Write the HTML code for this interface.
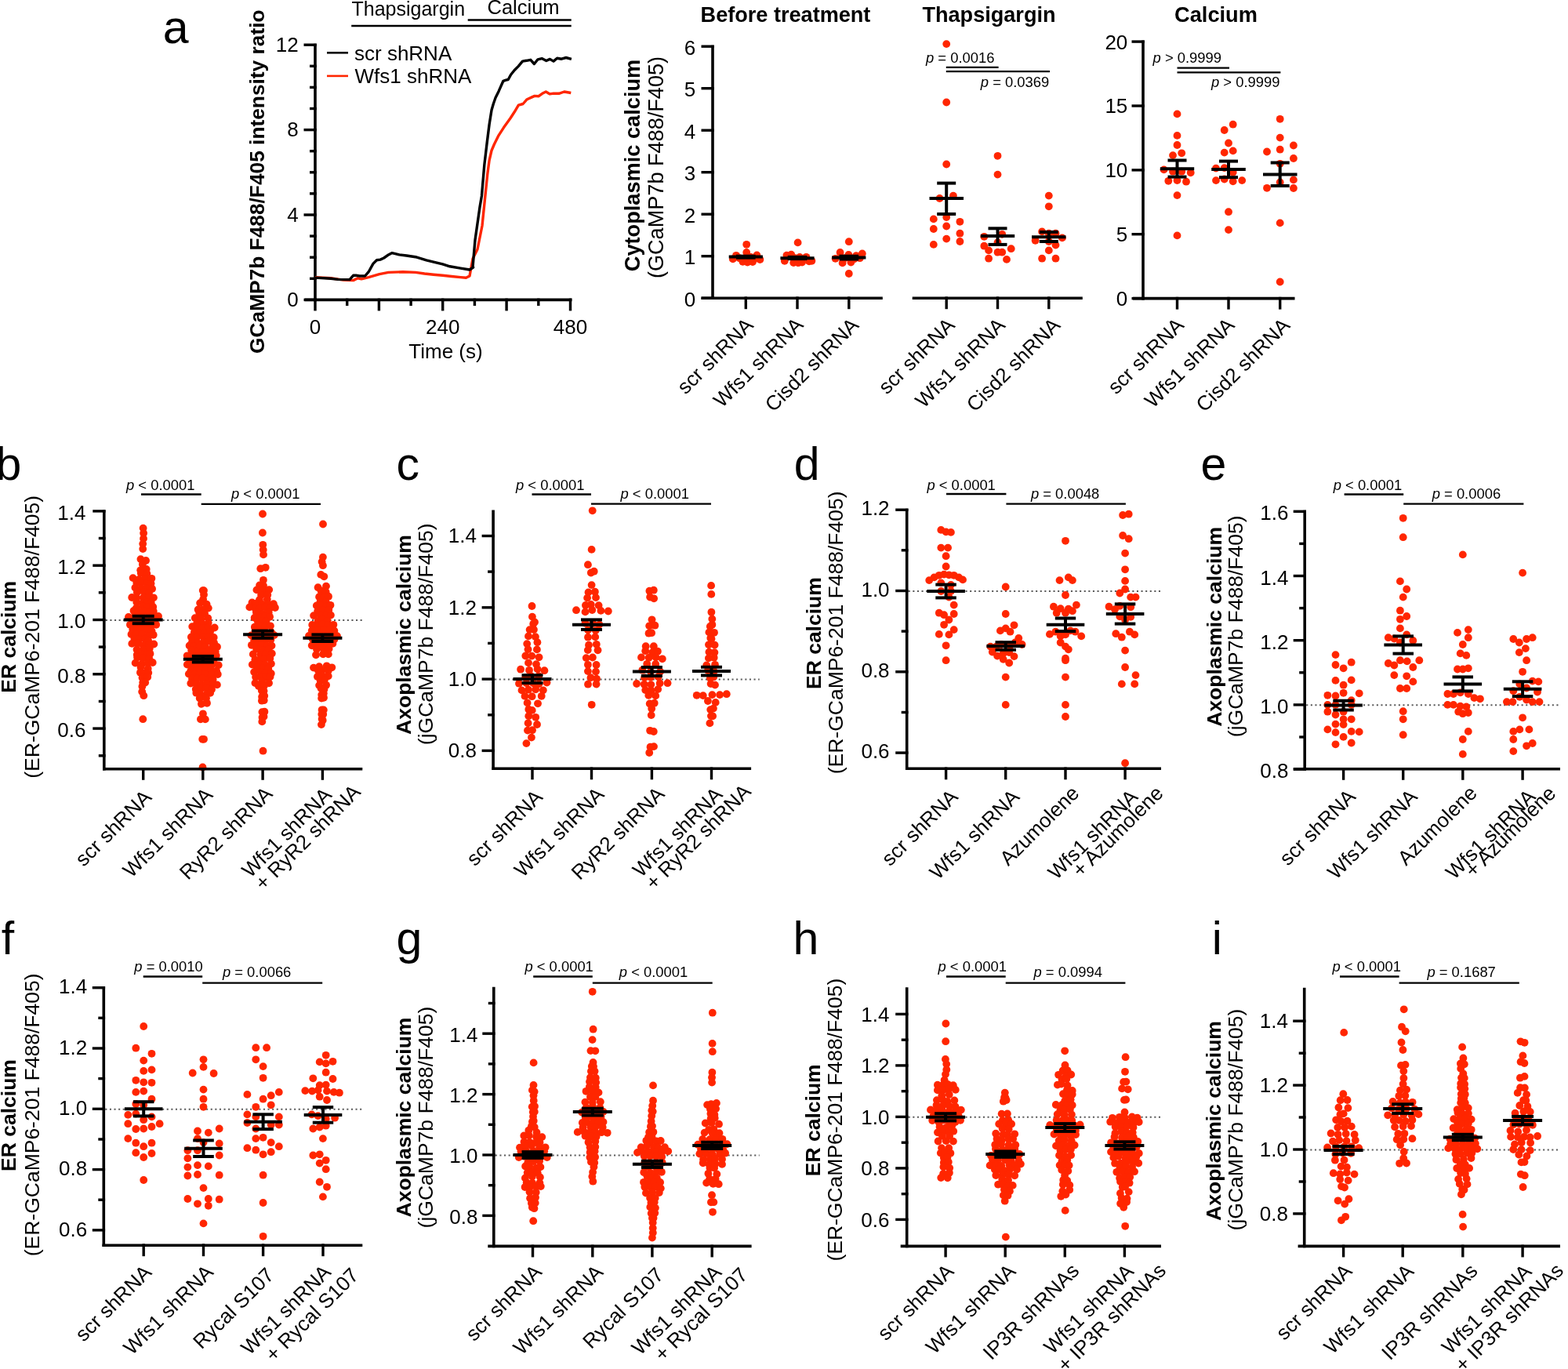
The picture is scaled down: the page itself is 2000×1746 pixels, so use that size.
<!DOCTYPE html>
<html><head><meta charset="utf-8"><title>Figure</title>
<style>html,body{margin:0;padding:0;background:#fff;}svg{display:block;}</style></head>
<body><svg width="2000" height="1746" viewBox="0 0 2000 1746" font-family="'Liberation Sans', Arial, Helvetica, sans-serif" fill="#000">
<rect width="2000" height="1746" fill="#fff"/>
<text x="207.7" y="55.0" font-size="59">a</text>
<text x="448.5" y="19.5" font-size="25">Thapsigargin</text>
<text x="621.5" y="18.3" font-size="25.5">Calcium</text>
<line x1="448.2" y1="33.0" x2="728.7" y2="33.0" stroke="#000" stroke-width="2.4" />
<line x1="596.7" y1="25.5" x2="728.7" y2="25.5" stroke="#000" stroke-width="2.4" />
<line x1="417.0" y1="67.3" x2="444.0" y2="67.3" stroke="#000" stroke-width="2.6" />
<line x1="417.0" y1="96.9" x2="444.0" y2="96.9" stroke="#FF2600" stroke-width="2.6" />
<text x="452.0" y="76.5" font-size="26">scr shRNA</text>
<text x="452.5" y="106.2" font-size="26">Wfs1 shRNA</text>
<line x1="402.0" y1="55.7" x2="402.0" y2="384.2" stroke="#000" stroke-width="3.6" />
<line x1="387.5" y1="382.4" x2="403.8" y2="382.4" stroke="#000" stroke-width="3.4" />
<text x="380.7" y="391.1" font-size="26" text-anchor="end">0</text>
<line x1="387.5" y1="274.0" x2="403.8" y2="274.0" stroke="#000" stroke-width="3.4" />
<text x="380.7" y="282.7" font-size="26" text-anchor="end">4</text>
<line x1="387.5" y1="165.6" x2="403.8" y2="165.6" stroke="#000" stroke-width="3.4" />
<text x="380.7" y="174.3" font-size="26" text-anchor="end">8</text>
<line x1="387.5" y1="57.2" x2="403.8" y2="57.2" stroke="#000" stroke-width="3.4" />
<text x="380.7" y="65.9" font-size="26" text-anchor="end">12</text>
<line x1="395.0" y1="355.3" x2="403.8" y2="355.3" stroke="#000" stroke-width="3.4" />
<line x1="395.0" y1="328.2" x2="403.8" y2="328.2" stroke="#000" stroke-width="3.4" />
<line x1="395.0" y1="301.1" x2="403.8" y2="301.1" stroke="#000" stroke-width="3.4" />
<line x1="395.0" y1="246.9" x2="403.8" y2="246.9" stroke="#000" stroke-width="3.4" />
<line x1="395.0" y1="219.8" x2="403.8" y2="219.8" stroke="#000" stroke-width="3.4" />
<line x1="395.0" y1="192.7" x2="403.8" y2="192.7" stroke="#000" stroke-width="3.4" />
<line x1="395.0" y1="138.5" x2="403.8" y2="138.5" stroke="#000" stroke-width="3.4" />
<line x1="395.0" y1="111.4" x2="403.8" y2="111.4" stroke="#000" stroke-width="3.4" />
<line x1="395.0" y1="84.3" x2="403.8" y2="84.3" stroke="#000" stroke-width="3.4" />
<line x1="388.5" y1="382.4" x2="729.5" y2="382.4" stroke="#000" stroke-width="3.6" />
<line x1="402.0" y1="380.6" x2="402.0" y2="396.4" stroke="#000" stroke-width="3.4" />
<line x1="483.4" y1="380.6" x2="483.4" y2="396.4" stroke="#000" stroke-width="3.4" />
<line x1="564.7" y1="380.6" x2="564.7" y2="396.4" stroke="#000" stroke-width="3.4" />
<line x1="646.1" y1="380.6" x2="646.1" y2="396.4" stroke="#000" stroke-width="3.4" />
<line x1="727.5" y1="380.6" x2="727.5" y2="396.4" stroke="#000" stroke-width="3.4" />
<line x1="442.7" y1="380.6" x2="442.7" y2="390.0" stroke="#000" stroke-width="3.4" />
<line x1="524.1" y1="380.6" x2="524.1" y2="390.0" stroke="#000" stroke-width="3.4" />
<line x1="605.4" y1="380.6" x2="605.4" y2="390.0" stroke="#000" stroke-width="3.4" />
<line x1="686.8" y1="380.6" x2="686.8" y2="390.0" stroke="#000" stroke-width="3.4" />
<text x="402.0" y="426.0" font-size="26" text-anchor="middle">0</text>
<text x="564.7" y="426.0" font-size="26" text-anchor="middle">240</text>
<text x="727.5" y="426.0" font-size="26" text-anchor="middle">480</text>
<text x="568.5" y="456.5" font-size="26" text-anchor="middle">Time (s)</text>
<text transform="translate(336.5,231.7) rotate(-90)" font-size="26.3" text-anchor="middle" font-weight="bold">GCaMP7b F488/F405 intensity ratio</text>
<polyline points="401.9,353.6 421.9,354.8 438.0,357.1 450.6,357.6 456.4,354.8 461.0,355.9 470.2,353.6 484.0,349.7 495.5,347.4 513.9,346.7 530.0,347.4 541.5,349.0 553.0,350.2 564.5,351.3 576.0,352.5 587.5,353.6 594.4,354.3 599.0,352.0 603.0,330.0 609.0,318.0 615.0,288.0 618.9,250.0 621.8,221.8 624.1,204.6 627.0,192.0 630.4,184.0 636.1,172.6 642.4,162.8 651.0,150.8 656.2,142.8 661.3,134.2 667.1,132.5 672.2,126.7 678.5,123.9 681.9,122.4 687.1,122.7 691.7,119.3 696.3,117.0 701.4,119.9 706.0,119.1 712.9,119.3 719.7,117.0 728.3,118.5" fill="none" stroke="#FF2600" stroke-width="3.4" stroke-linejoin="round"/>
<polyline points="401.9,354.1 421.9,355.3 431.1,356.4 446.0,356.6 450.6,351.3 454.1,351.3 458.7,352.0 465.6,352.0 470.2,346.7 475.9,336.4 480.5,331.8 485.1,331.1 489.7,329.0 495.5,324.9 500.1,322.6 509.3,324.9 518.5,326.0 530.0,327.7 543.8,331.8 553.0,334.1 564.5,336.9 573.7,339.8 587.5,342.1 599.0,344.0 603.6,341.0 603.0,340.5 606.0,306.0 612.0,264.0 614.4,250.0 617.8,210.4 621.2,181.7 624.1,158.8 627.0,140.5 629.3,132.5 632.1,124.5 636.1,116.4 641.9,103.3 645.3,102.1 648.2,101.5 651.6,95.2 656.2,89.5 661.3,84.4 666.5,78.1 671.6,77.3 676.8,76.3 681.4,81.5 686.0,75.8 691.1,74.6 696.8,77.5 701.4,75.4 706.0,78.1 710.6,74.3 716.3,75.2 722.0,73.5 728.9,75.4" fill="none" stroke="#000" stroke-width="3.4" stroke-linejoin="round"/>
<text x="1002.0" y="27.5" font-size="27.1" text-anchor="middle" font-weight="bold">Before treatment</text>
<text x="1261.5" y="27.5" font-size="27.1" text-anchor="middle" font-weight="bold">Thapsigargin</text>
<text x="1551.0" y="27.5" font-size="27.2" text-anchor="middle" font-weight="bold">Calcium</text>
<line x1="909.0" y1="57.7" x2="909.0" y2="382.0" stroke="#000" stroke-width="3.6" />
<line x1="894.5" y1="380.2" x2="910.8" y2="380.2" stroke="#000" stroke-width="3.4" />
<text x="887.1" y="390.9" font-size="26" text-anchor="end">0</text>
<line x1="894.5" y1="326.7" x2="910.8" y2="326.7" stroke="#000" stroke-width="3.4" />
<text x="887.1" y="337.4" font-size="26" text-anchor="end">1</text>
<line x1="894.5" y1="273.2" x2="910.8" y2="273.2" stroke="#000" stroke-width="3.4" />
<text x="887.1" y="283.9" font-size="26" text-anchor="end">2</text>
<line x1="894.5" y1="219.7" x2="910.8" y2="219.7" stroke="#000" stroke-width="3.4" />
<text x="887.1" y="230.4" font-size="26" text-anchor="end">3</text>
<line x1="894.5" y1="166.2" x2="910.8" y2="166.2" stroke="#000" stroke-width="3.4" />
<text x="887.1" y="176.9" font-size="26" text-anchor="end">4</text>
<line x1="894.5" y1="112.7" x2="910.8" y2="112.7" stroke="#000" stroke-width="3.4" />
<text x="887.1" y="123.4" font-size="26" text-anchor="end">5</text>
<line x1="894.5" y1="59.2" x2="910.8" y2="59.2" stroke="#000" stroke-width="3.4" />
<text x="887.1" y="69.9" font-size="26" text-anchor="end">6</text>
<text transform="translate(815.5,211.0) rotate(-90)" font-size="27.2" text-anchor="middle" font-weight="bold">Cytoplasmic calcium</text>
<text transform="translate(846.0,213.5) rotate(-90)" font-size="27.1" text-anchor="middle">(GCaMP7b F488/F405)</text>
<line x1="894.5" y1="380.2" x2="1125.8" y2="380.2" stroke="#000" stroke-width="3.6" />
<line x1="951.3" y1="378.4" x2="951.3" y2="394.2" stroke="#000" stroke-width="3.4" />
<line x1="1017.0" y1="378.4" x2="1017.0" y2="394.2" stroke="#000" stroke-width="3.4" />
<line x1="1082.8" y1="378.4" x2="1082.8" y2="394.2" stroke="#000" stroke-width="3.4" />
<line x1="1163.7" y1="380.2" x2="1380.8" y2="380.2" stroke="#000" stroke-width="3.6" />
<line x1="1207.2" y1="378.4" x2="1207.2" y2="394.2" stroke="#000" stroke-width="3.4" />
<line x1="1272.5" y1="378.4" x2="1272.5" y2="394.2" stroke="#000" stroke-width="3.4" />
<line x1="1337.8" y1="378.4" x2="1337.8" y2="394.2" stroke="#000" stroke-width="3.4" />
<line x1="1458.0" y1="51.6" x2="1458.0" y2="382.4" stroke="#000" stroke-width="3.6" />
<line x1="1443.5" y1="380.6" x2="1459.8" y2="380.6" stroke="#000" stroke-width="3.4" />
<text x="1438.3" y="390.0" font-size="26" text-anchor="end">0</text>
<line x1="1443.5" y1="298.7" x2="1459.8" y2="298.7" stroke="#000" stroke-width="3.4" />
<text x="1438.3" y="308.1" font-size="26" text-anchor="end">5</text>
<line x1="1443.5" y1="216.9" x2="1459.8" y2="216.9" stroke="#000" stroke-width="3.4" />
<text x="1438.3" y="226.3" font-size="26" text-anchor="end">10</text>
<line x1="1443.5" y1="135.0" x2="1459.8" y2="135.0" stroke="#000" stroke-width="3.4" />
<text x="1438.3" y="144.4" font-size="26" text-anchor="end">15</text>
<line x1="1443.5" y1="53.1" x2="1459.8" y2="53.1" stroke="#000" stroke-width="3.4" />
<text x="1438.3" y="62.5" font-size="26" text-anchor="end">20</text>
<line x1="1445.0" y1="380.6" x2="1651.5" y2="380.6" stroke="#000" stroke-width="3.6" />
<line x1="1501.5" y1="378.8" x2="1501.5" y2="394.6" stroke="#000" stroke-width="3.4" />
<line x1="1567.0" y1="378.8" x2="1567.0" y2="394.6" stroke="#000" stroke-width="3.4" />
<line x1="1632.7" y1="378.8" x2="1632.7" y2="394.6" stroke="#000" stroke-width="3.4" />
<text transform="translate(962.3,416.2) rotate(-45)" font-size="26" text-anchor="end">scr shRNA</text>
<text transform="translate(1026.0,415.8) rotate(-45)" font-size="26" text-anchor="end">Wfs1 shRNA</text>
<text transform="translate(1096.8,416.2) rotate(-45)" font-size="26" text-anchor="end">Cisd2 shRNA</text>
<text transform="translate(1219.2,416.2) rotate(-45)" font-size="26" text-anchor="end">scr shRNA</text>
<text transform="translate(1283.5,416.2) rotate(-45)" font-size="26" text-anchor="end">Wfs1 shRNA</text>
<text transform="translate(1353.8,416.2) rotate(-45)" font-size="26" text-anchor="end">Cisd2 shRNA</text>
<text transform="translate(1511.5,416.2) rotate(-45)" font-size="26" text-anchor="end">scr shRNA</text>
<text transform="translate(1576.0,416.2) rotate(-45)" font-size="26" text-anchor="end">Wfs1 shRNA</text>
<text transform="translate(1646.7,416.4) rotate(-45)" font-size="26" text-anchor="end">Cisd2 shRNA</text>
<g fill="#FF2600">
<circle cx="952.2" cy="311.8" r="4.9"/>
<circle cx="934.8" cy="330.4" r="4.9"/>
<circle cx="939.0" cy="325.8" r="4.9"/>
<circle cx="952.2" cy="322.0" r="4.9"/>
<circle cx="947.4" cy="333.8" r="4.9"/>
<circle cx="953.4" cy="334.6" r="4.9"/>
<circle cx="960.0" cy="334.0" r="4.9"/>
<circle cx="965.4" cy="325.4" r="4.9"/>
<circle cx="969.4" cy="331.0" r="4.9"/>
<circle cx="943.2" cy="329.2" r="4.9"/>
<circle cx="957.6" cy="328.0" r="4.9"/>
<circle cx="962.4" cy="330.4" r="4.9"/>
</g>
<g fill="#FF2600">
<circle cx="1017.6" cy="309.4" r="4.9"/>
<circle cx="1000.8" cy="332.8" r="4.9"/>
<circle cx="1003.4" cy="325.6" r="4.9"/>
<circle cx="1009.2" cy="324.6" r="4.9"/>
<circle cx="1012.2" cy="335.0" r="4.9"/>
<circle cx="1018.2" cy="335.2" r="4.9"/>
<circle cx="1023.0" cy="334.6" r="4.9"/>
<circle cx="1028.4" cy="327.8" r="4.9"/>
<circle cx="1032.0" cy="333.4" r="4.9"/>
<circle cx="1035.4" cy="332.8" r="4.9"/>
<circle cx="1020.0" cy="328.0" r="4.9"/>
<circle cx="1014.0" cy="329.2" r="4.9"/>
</g>
<g fill="#FF2600">
<circle cx="1082.8" cy="308.2" r="4.9"/>
<circle cx="1082.8" cy="349.0" r="4.9"/>
<circle cx="1065.6" cy="329.8" r="4.9"/>
<circle cx="1071.6" cy="322.0" r="4.9"/>
<circle cx="1074.6" cy="335.4" r="4.9"/>
<circle cx="1085.4" cy="334.6" r="4.9"/>
<circle cx="1092.0" cy="326.2" r="4.9"/>
<circle cx="1099.8" cy="323.4" r="4.9"/>
<circle cx="1082.4" cy="325.0" r="4.9"/>
<circle cx="1077.6" cy="329.2" r="4.9"/>
<circle cx="1089.6" cy="330.4" r="4.9"/>
<circle cx="1096.8" cy="329.2" r="4.9"/>
</g>
<line x1="929.7" y1="327.4" x2="972.9" y2="327.4" stroke="#000" stroke-width="4" />
<rect x="939.0" y="324.7" width="24.6" height="6.0" fill="#000"/>
<line x1="995.4" y1="329.2" x2="1038.6" y2="329.2" stroke="#000" stroke-width="4" />
<rect x="1004.7" y="325.9" width="24.6" height="6.2" fill="#000"/>
<line x1="1061.2" y1="328.6" x2="1104.4" y2="328.6" stroke="#000" stroke-width="4" />
<rect x="1070.5" y="324.7" width="24.6" height="7.8" fill="#000"/>
<g fill="#FF2600">
<circle cx="1207.2" cy="56.1" r="4.9"/>
<circle cx="1207.2" cy="130.5" r="4.9"/>
<circle cx="1207.2" cy="209.5" r="4.9"/>
<circle cx="1198.5" cy="253.0" r="4.9"/>
<circle cx="1215.9" cy="249.6" r="4.9"/>
<circle cx="1207.2" cy="277.1" r="4.9"/>
<circle cx="1190.8" cy="279.4" r="4.9"/>
<circle cx="1224.4" cy="282.8" r="4.9"/>
<circle cx="1207.2" cy="288.5" r="4.9"/>
<circle cx="1190.8" cy="292.0" r="4.9"/>
<circle cx="1224.4" cy="297.7" r="4.9"/>
<circle cx="1207.2" cy="304.6" r="4.9"/>
<circle cx="1224.4" cy="308.0" r="4.9"/>
<circle cx="1190.8" cy="311.9" r="4.9"/>
</g>
<g fill="#FF2600">
<circle cx="1272.5" cy="198.8" r="4.9"/>
<circle cx="1272.5" cy="222.6" r="4.9"/>
<circle cx="1255.3" cy="301.8" r="4.9"/>
<circle cx="1278.2" cy="298.8" r="4.9"/>
<circle cx="1255.3" cy="313.7" r="4.9"/>
<circle cx="1272.5" cy="309.1" r="4.9"/>
<circle cx="1289.7" cy="317.2" r="4.9"/>
<circle cx="1261.1" cy="319.4" r="4.9"/>
<circle cx="1272.5" cy="321.7" r="4.9"/>
<circle cx="1278.2" cy="321.7" r="4.9"/>
<circle cx="1261.1" cy="329.7" r="4.9"/>
<circle cx="1284.0" cy="330.9" r="4.9"/>
</g>
<g fill="#FF2600">
<circle cx="1337.8" cy="249.6" r="4.9"/>
<circle cx="1337.8" cy="263.3" r="4.9"/>
<circle cx="1329.1" cy="295.4" r="4.9"/>
<circle cx="1337.8" cy="297.7" r="4.9"/>
<circle cx="1346.5" cy="297.7" r="4.9"/>
<circle cx="1354.9" cy="303.4" r="4.9"/>
<circle cx="1320.6" cy="306.8" r="4.9"/>
<circle cx="1337.8" cy="308.0" r="4.9"/>
<circle cx="1346.5" cy="312.6" r="4.9"/>
<circle cx="1337.8" cy="319.4" r="4.9"/>
<circle cx="1329.1" cy="329.7" r="4.9"/>
<circle cx="1346.5" cy="329.7" r="4.9"/>
</g>
<line x1="1185.5" y1="253.0" x2="1229.0" y2="253.0" stroke="#000" stroke-width="4" />
<line x1="1207.2" y1="233.6" x2="1207.2" y2="273.0" stroke="#000" stroke-width="4" />
<line x1="1195.2" y1="233.6" x2="1219.2" y2="233.6" stroke="#000" stroke-width="4" />
<line x1="1195.2" y1="273.0" x2="1219.2" y2="273.0" stroke="#000" stroke-width="4" />
<line x1="1250.8" y1="301.1" x2="1294.2" y2="301.1" stroke="#000" stroke-width="4" />
<line x1="1272.5" y1="291.3" x2="1272.5" y2="311.9" stroke="#000" stroke-width="4" />
<line x1="1260.5" y1="291.3" x2="1284.5" y2="291.3" stroke="#000" stroke-width="4" />
<line x1="1260.5" y1="311.9" x2="1284.5" y2="311.9" stroke="#000" stroke-width="4" />
<line x1="1316.0" y1="302.3" x2="1359.5" y2="302.3" stroke="#000" stroke-width="4" />
<line x1="1337.8" y1="295.9" x2="1337.8" y2="308.0" stroke="#000" stroke-width="4" />
<line x1="1325.8" y1="295.9" x2="1349.8" y2="295.9" stroke="#000" stroke-width="4" />
<line x1="1325.8" y1="308.0" x2="1349.8" y2="308.0" stroke="#000" stroke-width="4" />
<g fill="#FF2600">
<circle cx="1501.5" cy="145.4" r="4.9"/>
<circle cx="1501.5" cy="172.9" r="4.9"/>
<circle cx="1501.5" cy="185.0" r="4.9"/>
<circle cx="1496.0" cy="198.1" r="4.9"/>
<circle cx="1507.2" cy="195.3" r="4.9"/>
<circle cx="1484.6" cy="216.4" r="4.9"/>
<circle cx="1496.0" cy="218.7" r="4.9"/>
<circle cx="1507.2" cy="218.7" r="4.9"/>
<circle cx="1518.7" cy="220.3" r="4.9"/>
<circle cx="1490.3" cy="230.8" r="4.9"/>
<circle cx="1501.5" cy="230.1" r="4.9"/>
<circle cx="1513.0" cy="231.7" r="4.9"/>
<circle cx="1501.5" cy="249.1" r="4.9"/>
<circle cx="1501.5" cy="300.4" r="4.9"/>
</g>
<g fill="#FF2600">
<circle cx="1572.7" cy="158.7" r="4.9"/>
<circle cx="1561.7" cy="166.0" r="4.9"/>
<circle cx="1567.0" cy="182.5" r="4.9"/>
<circle cx="1561.7" cy="194.6" r="4.9"/>
<circle cx="1572.7" cy="192.4" r="4.9"/>
<circle cx="1551.0" cy="214.6" r="4.9"/>
<circle cx="1561.7" cy="214.1" r="4.9"/>
<circle cx="1572.7" cy="219.8" r="4.9"/>
<circle cx="1551.0" cy="230.1" r="4.9"/>
<circle cx="1561.7" cy="228.5" r="4.9"/>
<circle cx="1572.7" cy="231.3" r="4.9"/>
<circle cx="1584.2" cy="230.1" r="4.9"/>
<circle cx="1567.0" cy="270.2" r="4.9"/>
<circle cx="1567.0" cy="293.1" r="4.9"/>
</g>
<g fill="#FF2600">
<circle cx="1632.7" cy="151.8" r="4.9"/>
<circle cx="1632.7" cy="175.6" r="4.9"/>
<circle cx="1649.9" cy="185.5" r="4.9"/>
<circle cx="1616.0" cy="193.5" r="4.9"/>
<circle cx="1632.7" cy="190.7" r="4.9"/>
<circle cx="1649.9" cy="202.0" r="4.9"/>
<circle cx="1632.7" cy="208.8" r="4.9"/>
<circle cx="1649.9" cy="229.4" r="4.9"/>
<circle cx="1632.7" cy="232.4" r="4.9"/>
<circle cx="1616.0" cy="239.8" r="4.9"/>
<circle cx="1649.9" cy="240.0" r="4.9"/>
<circle cx="1632.7" cy="284.4" r="4.9"/>
<circle cx="1632.7" cy="359.5" r="4.9"/>
</g>
<line x1="1479.8" y1="215.3" x2="1523.2" y2="215.3" stroke="#000" stroke-width="4" />
<line x1="1501.5" y1="204.5" x2="1501.5" y2="225.6" stroke="#000" stroke-width="4" />
<line x1="1489.5" y1="204.5" x2="1513.5" y2="204.5" stroke="#000" stroke-width="4" />
<line x1="1489.5" y1="225.6" x2="1513.5" y2="225.6" stroke="#000" stroke-width="4" />
<line x1="1545.2" y1="215.9" x2="1588.8" y2="215.9" stroke="#000" stroke-width="4" />
<line x1="1567.0" y1="205.6" x2="1567.0" y2="226.2" stroke="#000" stroke-width="4" />
<line x1="1555.0" y1="205.6" x2="1579.0" y2="205.6" stroke="#000" stroke-width="4" />
<line x1="1555.0" y1="226.2" x2="1579.0" y2="226.2" stroke="#000" stroke-width="4" />
<line x1="1611.0" y1="222.6" x2="1654.5" y2="222.6" stroke="#000" stroke-width="4" />
<line x1="1632.7" y1="207.5" x2="1632.7" y2="237.0" stroke="#000" stroke-width="4" />
<line x1="1620.7" y1="207.5" x2="1644.7" y2="207.5" stroke="#000" stroke-width="4" />
<line x1="1620.7" y1="237.0" x2="1644.7" y2="237.0" stroke="#000" stroke-width="4" />
<text x="1181.0" y="80.0" font-size="18.4"><tspan font-style="italic">p</tspan> = 0.0016</text>
<line x1="1206.8" y1="85.9" x2="1273.6" y2="85.9" stroke="#000" stroke-width="2.3" />
<line x1="1206.8" y1="91.1" x2="1339.0" y2="91.1" stroke="#000" stroke-width="2.3" />
<text x="1250.8" y="111.0" font-size="18.4"><tspan font-style="italic">p</tspan> = 0.0369</text>
<text x="1470.6" y="80.0" font-size="18.4"><tspan font-style="italic">p</tspan> &gt; 0.9999</text>
<line x1="1501.5" y1="86.6" x2="1568.0" y2="86.6" stroke="#000" stroke-width="2.3" />
<line x1="1501.5" y1="92.3" x2="1633.4" y2="92.3" stroke="#000" stroke-width="2.3" />
<text x="1545.0" y="111.0" font-size="18.4"><tspan font-style="italic">p</tspan> &gt; 0.9999</text>
<text x="-5.4" y="612.0" font-size="59">b</text>
<line x1="134.8" y1="790.9" x2="463.6" y2="790.9" stroke="#5c5c5c" stroke-width="2" stroke-dasharray="2.1 3.5"/>
<g fill="#FF2600">
<circle cx="182.6" cy="673.6" r="4.9"/>
<circle cx="183.1" cy="680.0" r="4.9"/>
<circle cx="183.0" cy="686.9" r="4.9"/>
<circle cx="182.2" cy="693.6" r="4.9"/>
<circle cx="182.2" cy="700.1" r="4.9"/>
<circle cx="179.4" cy="713.1" r="4.9"/>
<circle cx="186.1" cy="715.0" r="4.9"/>
<circle cx="181.8" cy="719.8" r="4.9"/>
<circle cx="179.2" cy="727.3" r="4.9"/>
<circle cx="186.7" cy="725.9" r="4.9"/>
<circle cx="179.7" cy="730.9" r="4.9"/>
<circle cx="187.4" cy="731.6" r="4.9"/>
<circle cx="169.6" cy="737.1" r="4.9"/>
<circle cx="177.3" cy="738.9" r="4.9"/>
<circle cx="184.6" cy="738.3" r="4.9"/>
<circle cx="193.4" cy="737.8" r="4.9"/>
<circle cx="174.2" cy="743.0" r="4.9"/>
<circle cx="179.3" cy="743.3" r="4.9"/>
<circle cx="187.2" cy="743.9" r="4.9"/>
<circle cx="192.5" cy="744.3" r="4.9"/>
<circle cx="172.4" cy="749.5" r="4.9"/>
<circle cx="180.4" cy="750.6" r="4.9"/>
<circle cx="186.2" cy="750.3" r="4.9"/>
<circle cx="194.1" cy="751.0" r="4.9"/>
<circle cx="174.8" cy="755.5" r="4.9"/>
<circle cx="183.6" cy="755.1" r="4.9"/>
<circle cx="190.0" cy="756.7" r="4.9"/>
<circle cx="168.2" cy="762.0" r="4.9"/>
<circle cx="174.2" cy="762.5" r="4.9"/>
<circle cx="182.8" cy="762.2" r="4.9"/>
<circle cx="189.9" cy="761.5" r="4.9"/>
<circle cx="195.9" cy="762.3" r="4.9"/>
<circle cx="174.2" cy="767.9" r="4.9"/>
<circle cx="181.6" cy="769.2" r="4.9"/>
<circle cx="187.2" cy="768.4" r="4.9"/>
<circle cx="192.7" cy="768.5" r="4.9"/>
<circle cx="174.0" cy="775.3" r="4.9"/>
<circle cx="182.0" cy="773.4" r="4.9"/>
<circle cx="188.2" cy="774.4" r="4.9"/>
<circle cx="195.2" cy="773.9" r="4.9"/>
<circle cx="170.5" cy="779.0" r="4.9"/>
<circle cx="176.3" cy="780.7" r="4.9"/>
<circle cx="182.9" cy="779.3" r="4.9"/>
<circle cx="190.1" cy="780.9" r="4.9"/>
<circle cx="195.8" cy="779.8" r="4.9"/>
<circle cx="163.9" cy="786.9" r="4.9"/>
<circle cx="171.1" cy="786.9" r="4.9"/>
<circle cx="176.1" cy="785.7" r="4.9"/>
<circle cx="182.7" cy="786.9" r="4.9"/>
<circle cx="190.7" cy="785.0" r="4.9"/>
<circle cx="195.1" cy="785.3" r="4.9"/>
<circle cx="202.0" cy="785.9" r="4.9"/>
<circle cx="168.8" cy="791.3" r="4.9"/>
<circle cx="174.6" cy="791.7" r="4.9"/>
<circle cx="182.7" cy="792.1" r="4.9"/>
<circle cx="191.4" cy="792.4" r="4.9"/>
<circle cx="197.4" cy="792.2" r="4.9"/>
<circle cx="165.9" cy="796.8" r="4.9"/>
<circle cx="173.6" cy="798.6" r="4.9"/>
<circle cx="180.3" cy="798.7" r="4.9"/>
<circle cx="185.9" cy="797.6" r="4.9"/>
<circle cx="191.9" cy="798.3" r="4.9"/>
<circle cx="199.2" cy="796.8" r="4.9"/>
<circle cx="169.2" cy="803.0" r="4.9"/>
<circle cx="175.4" cy="802.7" r="4.9"/>
<circle cx="180.9" cy="803.0" r="4.9"/>
<circle cx="187.4" cy="803.5" r="4.9"/>
<circle cx="193.6" cy="804.9" r="4.9"/>
<circle cx="167.5" cy="809.0" r="4.9"/>
<circle cx="173.8" cy="809.5" r="4.9"/>
<circle cx="181.2" cy="808.9" r="4.9"/>
<circle cx="189.5" cy="811.2" r="4.9"/>
<circle cx="195.7" cy="809.8" r="4.9"/>
<circle cx="171.4" cy="814.8" r="4.9"/>
<circle cx="177.6" cy="815.2" r="4.9"/>
<circle cx="185.1" cy="815.0" r="4.9"/>
<circle cx="189.1" cy="817.0" r="4.9"/>
<circle cx="168.3" cy="820.9" r="4.9"/>
<circle cx="175.5" cy="820.6" r="4.9"/>
<circle cx="182.5" cy="823.1" r="4.9"/>
<circle cx="190.5" cy="822.3" r="4.9"/>
<circle cx="196.3" cy="821.5" r="4.9"/>
<circle cx="174.5" cy="828.5" r="4.9"/>
<circle cx="183.2" cy="828.5" r="4.9"/>
<circle cx="190.8" cy="827.1" r="4.9"/>
<circle cx="174.7" cy="835.1" r="4.9"/>
<circle cx="181.1" cy="834.6" r="4.9"/>
<circle cx="186.9" cy="834.4" r="4.9"/>
<circle cx="191.5" cy="833.8" r="4.9"/>
<circle cx="175.1" cy="838.6" r="4.9"/>
<circle cx="181.9" cy="839.2" r="4.9"/>
<circle cx="190.3" cy="840.3" r="4.9"/>
<circle cx="172.6" cy="845.6" r="4.9"/>
<circle cx="180.8" cy="847.0" r="4.9"/>
<circle cx="188.5" cy="845.4" r="4.9"/>
<circle cx="194.7" cy="845.0" r="4.9"/>
<circle cx="179.5" cy="851.0" r="4.9"/>
<circle cx="188.7" cy="852.8" r="4.9"/>
<circle cx="178.9" cy="857.7" r="4.9"/>
<circle cx="184.6" cy="858.5" r="4.9"/>
<circle cx="189.3" cy="858.1" r="4.9"/>
<circle cx="181.5" cy="864.4" r="4.9"/>
<circle cx="188.2" cy="863.6" r="4.9"/>
<circle cx="182.2" cy="870.4" r="4.9"/>
<circle cx="185.2" cy="870.5" r="4.9"/>
<circle cx="181.4" cy="875.5" r="4.9"/>
<circle cx="181.2" cy="882.2" r="4.9"/>
<circle cx="183.3" cy="887.2" r="4.9"/>
<circle cx="182.3" cy="917.2" r="4.9"/>
</g>
<g fill="#FF2600">
<circle cx="258.7" cy="753.1" r="4.9"/>
<circle cx="260.0" cy="753.1" r="4.9"/>
<circle cx="260.0" cy="758.5" r="4.9"/>
<circle cx="259.1" cy="764.4" r="4.9"/>
<circle cx="255.1" cy="769.1" r="4.9"/>
<circle cx="263.6" cy="770.7" r="4.9"/>
<circle cx="252.6" cy="777.5" r="4.9"/>
<circle cx="258.8" cy="777.3" r="4.9"/>
<circle cx="265.8" cy="775.6" r="4.9"/>
<circle cx="254.2" cy="781.8" r="4.9"/>
<circle cx="261.1" cy="782.6" r="4.9"/>
<circle cx="248.8" cy="788.2" r="4.9"/>
<circle cx="256.3" cy="789.4" r="4.9"/>
<circle cx="265.2" cy="788.3" r="4.9"/>
<circle cx="251.0" cy="795.4" r="4.9"/>
<circle cx="258.1" cy="795.5" r="4.9"/>
<circle cx="265.7" cy="794.5" r="4.9"/>
<circle cx="245.2" cy="799.1" r="4.9"/>
<circle cx="252.1" cy="799.6" r="4.9"/>
<circle cx="258.0" cy="801.2" r="4.9"/>
<circle cx="265.5" cy="800.3" r="4.9"/>
<circle cx="273.7" cy="800.5" r="4.9"/>
<circle cx="247.8" cy="806.5" r="4.9"/>
<circle cx="255.1" cy="807.2" r="4.9"/>
<circle cx="260.8" cy="806.6" r="4.9"/>
<circle cx="268.1" cy="805.8" r="4.9"/>
<circle cx="243.9" cy="812.5" r="4.9"/>
<circle cx="251.0" cy="813.1" r="4.9"/>
<circle cx="259.2" cy="812.3" r="4.9"/>
<circle cx="265.7" cy="812.4" r="4.9"/>
<circle cx="272.7" cy="812.9" r="4.9"/>
<circle cx="245.1" cy="818.5" r="4.9"/>
<circle cx="252.0" cy="819.6" r="4.9"/>
<circle cx="259.5" cy="819.4" r="4.9"/>
<circle cx="267.0" cy="817.8" r="4.9"/>
<circle cx="273.0" cy="819.6" r="4.9"/>
<circle cx="241.6" cy="823.5" r="4.9"/>
<circle cx="247.4" cy="824.3" r="4.9"/>
<circle cx="254.6" cy="823.8" r="4.9"/>
<circle cx="261.8" cy="824.9" r="4.9"/>
<circle cx="270.9" cy="825.5" r="4.9"/>
<circle cx="277.0" cy="825.0" r="4.9"/>
<circle cx="244.2" cy="829.5" r="4.9"/>
<circle cx="252.3" cy="831.7" r="4.9"/>
<circle cx="258.0" cy="831.7" r="4.9"/>
<circle cx="265.8" cy="830.4" r="4.9"/>
<circle cx="274.7" cy="831.3" r="4.9"/>
<circle cx="238.7" cy="836.3" r="4.9"/>
<circle cx="246.6" cy="836.1" r="4.9"/>
<circle cx="253.3" cy="836.0" r="4.9"/>
<circle cx="262.1" cy="835.2" r="4.9"/>
<circle cx="269.1" cy="836.3" r="4.9"/>
<circle cx="275.8" cy="836.1" r="4.9"/>
<circle cx="243.1" cy="842.5" r="4.9"/>
<circle cx="249.5" cy="843.8" r="4.9"/>
<circle cx="259.0" cy="843.7" r="4.9"/>
<circle cx="264.9" cy="841.9" r="4.9"/>
<circle cx="272.4" cy="843.2" r="4.9"/>
<circle cx="238.8" cy="847.6" r="4.9"/>
<circle cx="245.5" cy="849.6" r="4.9"/>
<circle cx="253.1" cy="847.9" r="4.9"/>
<circle cx="257.9" cy="849.6" r="4.9"/>
<circle cx="265.5" cy="849.0" r="4.9"/>
<circle cx="270.8" cy="847.4" r="4.9"/>
<circle cx="278.7" cy="848.3" r="4.9"/>
<circle cx="243.3" cy="855.7" r="4.9"/>
<circle cx="250.6" cy="855.3" r="4.9"/>
<circle cx="255.6" cy="855.5" r="4.9"/>
<circle cx="262.0" cy="855.5" r="4.9"/>
<circle cx="269.4" cy="854.1" r="4.9"/>
<circle cx="276.1" cy="855.6" r="4.9"/>
<circle cx="240.8" cy="859.6" r="4.9"/>
<circle cx="248.5" cy="859.9" r="4.9"/>
<circle cx="254.7" cy="859.7" r="4.9"/>
<circle cx="261.8" cy="859.8" r="4.9"/>
<circle cx="269.7" cy="860.0" r="4.9"/>
<circle cx="277.8" cy="860.0" r="4.9"/>
<circle cx="245.0" cy="865.7" r="4.9"/>
<circle cx="251.4" cy="865.3" r="4.9"/>
<circle cx="258.0" cy="865.3" r="4.9"/>
<circle cx="266.2" cy="866.7" r="4.9"/>
<circle cx="271.6" cy="866.5" r="4.9"/>
<circle cx="243.3" cy="871.6" r="4.9"/>
<circle cx="250.4" cy="872.4" r="4.9"/>
<circle cx="256.5" cy="873.5" r="4.9"/>
<circle cx="263.1" cy="872.6" r="4.9"/>
<circle cx="270.7" cy="873.8" r="4.9"/>
<circle cx="276.9" cy="873.4" r="4.9"/>
<circle cx="249.7" cy="879.0" r="4.9"/>
<circle cx="256.4" cy="878.2" r="4.9"/>
<circle cx="262.8" cy="877.6" r="4.9"/>
<circle cx="270.0" cy="879.2" r="4.9"/>
<circle cx="250.3" cy="883.7" r="4.9"/>
<circle cx="255.5" cy="885.5" r="4.9"/>
<circle cx="263.5" cy="885.1" r="4.9"/>
<circle cx="268.1" cy="883.9" r="4.9"/>
<circle cx="254.7" cy="890.5" r="4.9"/>
<circle cx="263.0" cy="890.5" r="4.9"/>
<circle cx="256.9" cy="897.8" r="4.9"/>
<circle cx="264.0" cy="896.8" r="4.9"/>
<circle cx="258.9" cy="910.3" r="4.9"/>
<circle cx="255.9" cy="917.3" r="4.9"/>
<circle cx="261.8" cy="917.4" r="4.9"/>
<circle cx="258.2" cy="942.8" r="4.9"/>
<circle cx="260.0" cy="942.8" r="4.9"/>
<circle cx="258.5" cy="978.5" r="4.9"/>
</g>
<g fill="#FF2600">
<circle cx="335.0" cy="655.5" r="4.9"/>
<circle cx="334.9" cy="679.5" r="4.9"/>
<circle cx="335.3" cy="694.8" r="4.9"/>
<circle cx="335.7" cy="701.2" r="4.9"/>
<circle cx="336.0" cy="707.4" r="4.9"/>
<circle cx="332.3" cy="725.2" r="4.9"/>
<circle cx="338.7" cy="723.8" r="4.9"/>
<circle cx="335.9" cy="739.8" r="4.9"/>
<circle cx="331.1" cy="746.5" r="4.9"/>
<circle cx="336.0" cy="747.0" r="4.9"/>
<circle cx="327.4" cy="752.4" r="4.9"/>
<circle cx="335.9" cy="752.9" r="4.9"/>
<circle cx="343.2" cy="752.1" r="4.9"/>
<circle cx="333.1" cy="758.8" r="4.9"/>
<circle cx="341.3" cy="758.8" r="4.9"/>
<circle cx="331.0" cy="764.9" r="4.9"/>
<circle cx="340.8" cy="764.4" r="4.9"/>
<circle cx="321.5" cy="768.5" r="4.9"/>
<circle cx="327.6" cy="769.4" r="4.9"/>
<circle cx="334.2" cy="770.6" r="4.9"/>
<circle cx="342.0" cy="770.1" r="4.9"/>
<circle cx="348.9" cy="770.2" r="4.9"/>
<circle cx="318.3" cy="774.4" r="4.9"/>
<circle cx="325.7" cy="776.3" r="4.9"/>
<circle cx="331.6" cy="775.7" r="4.9"/>
<circle cx="338.6" cy="774.5" r="4.9"/>
<circle cx="345.4" cy="775.0" r="4.9"/>
<circle cx="350.9" cy="775.0" r="4.9"/>
<circle cx="326.8" cy="780.8" r="4.9"/>
<circle cx="335.2" cy="782.8" r="4.9"/>
<circle cx="342.7" cy="781.2" r="4.9"/>
<circle cx="324.6" cy="787.9" r="4.9"/>
<circle cx="332.0" cy="787.7" r="4.9"/>
<circle cx="338.3" cy="786.3" r="4.9"/>
<circle cx="344.1" cy="786.8" r="4.9"/>
<circle cx="328.9" cy="792.8" r="4.9"/>
<circle cx="334.8" cy="792.1" r="4.9"/>
<circle cx="339.5" cy="792.7" r="4.9"/>
<circle cx="324.8" cy="799.7" r="4.9"/>
<circle cx="331.8" cy="798.7" r="4.9"/>
<circle cx="338.2" cy="799.2" r="4.9"/>
<circle cx="344.9" cy="798.3" r="4.9"/>
<circle cx="325.5" cy="804.4" r="4.9"/>
<circle cx="332.9" cy="806.3" r="4.9"/>
<circle cx="337.2" cy="805.0" r="4.9"/>
<circle cx="346.0" cy="806.4" r="4.9"/>
<circle cx="320.4" cy="810.4" r="4.9"/>
<circle cx="326.9" cy="812.2" r="4.9"/>
<circle cx="334.1" cy="811.3" r="4.9"/>
<circle cx="341.1" cy="811.1" r="4.9"/>
<circle cx="349.8" cy="810.1" r="4.9"/>
<circle cx="324.1" cy="817.0" r="4.9"/>
<circle cx="332.0" cy="817.5" r="4.9"/>
<circle cx="337.5" cy="818.0" r="4.9"/>
<circle cx="345.4" cy="815.7" r="4.9"/>
<circle cx="320.9" cy="822.8" r="4.9"/>
<circle cx="327.8" cy="822.3" r="4.9"/>
<circle cx="333.4" cy="822.4" r="4.9"/>
<circle cx="340.3" cy="823.7" r="4.9"/>
<circle cx="346.5" cy="823.5" r="4.9"/>
<circle cx="327.1" cy="827.8" r="4.9"/>
<circle cx="335.3" cy="829.3" r="4.9"/>
<circle cx="342.6" cy="828.2" r="4.9"/>
<circle cx="322.8" cy="834.4" r="4.9"/>
<circle cx="332.3" cy="834.9" r="4.9"/>
<circle cx="338.7" cy="834.5" r="4.9"/>
<circle cx="346.8" cy="833.5" r="4.9"/>
<circle cx="325.3" cy="841.4" r="4.9"/>
<circle cx="331.4" cy="841.7" r="4.9"/>
<circle cx="337.5" cy="839.9" r="4.9"/>
<circle cx="344.4" cy="839.7" r="4.9"/>
<circle cx="321.8" cy="847.6" r="4.9"/>
<circle cx="330.7" cy="847.3" r="4.9"/>
<circle cx="337.9" cy="847.5" r="4.9"/>
<circle cx="345.9" cy="846.6" r="4.9"/>
<circle cx="327.6" cy="851.2" r="4.9"/>
<circle cx="335.1" cy="852.2" r="4.9"/>
<circle cx="342.3" cy="852.7" r="4.9"/>
<circle cx="324.1" cy="857.1" r="4.9"/>
<circle cx="332.7" cy="857.3" r="4.9"/>
<circle cx="338.7" cy="857.8" r="4.9"/>
<circle cx="345.8" cy="858.9" r="4.9"/>
<circle cx="326.1" cy="863.5" r="4.9"/>
<circle cx="332.5" cy="863.6" r="4.9"/>
<circle cx="338.9" cy="863.9" r="4.9"/>
<circle cx="344.5" cy="863.3" r="4.9"/>
<circle cx="325.4" cy="871.1" r="4.9"/>
<circle cx="334.1" cy="869.3" r="4.9"/>
<circle cx="343.0" cy="871.3" r="4.9"/>
<circle cx="329.9" cy="875.0" r="4.9"/>
<circle cx="336.8" cy="874.9" r="4.9"/>
<circle cx="333.8" cy="880.8" r="4.9"/>
<circle cx="336.5" cy="881.2" r="4.9"/>
<circle cx="334.1" cy="888.7" r="4.9"/>
<circle cx="337.2" cy="887.5" r="4.9"/>
<circle cx="333.9" cy="893.7" r="4.9"/>
<circle cx="336.7" cy="893.2" r="4.9"/>
<circle cx="334.4" cy="908.1" r="4.9"/>
<circle cx="337.4" cy="907.7" r="4.9"/>
<circle cx="334.5" cy="915.0" r="4.9"/>
<circle cx="336.5" cy="913.9" r="4.9"/>
<circle cx="334.3" cy="920.4" r="4.9"/>
<circle cx="335.5" cy="957.7" r="4.9"/>
</g>
<g fill="#FF2600">
<circle cx="412.0" cy="668.5" r="4.9"/>
<circle cx="411.9" cy="710.6" r="4.9"/>
<circle cx="410.6" cy="716.5" r="4.9"/>
<circle cx="411.9" cy="721.2" r="4.9"/>
<circle cx="409.3" cy="732.9" r="4.9"/>
<circle cx="413.3" cy="735.3" r="4.9"/>
<circle cx="405.6" cy="749.2" r="4.9"/>
<circle cx="416.0" cy="747.6" r="4.9"/>
<circle cx="409.5" cy="753.5" r="4.9"/>
<circle cx="415.7" cy="754.9" r="4.9"/>
<circle cx="407.1" cy="761.2" r="4.9"/>
<circle cx="413.2" cy="761.3" r="4.9"/>
<circle cx="419.0" cy="760.7" r="4.9"/>
<circle cx="408.5" cy="767.5" r="4.9"/>
<circle cx="415.8" cy="767.8" r="4.9"/>
<circle cx="403.8" cy="772.4" r="4.9"/>
<circle cx="408.8" cy="772.3" r="4.9"/>
<circle cx="416.2" cy="773.4" r="4.9"/>
<circle cx="421.5" cy="771.8" r="4.9"/>
<circle cx="405.2" cy="779.3" r="4.9"/>
<circle cx="411.8" cy="778.3" r="4.9"/>
<circle cx="419.3" cy="777.8" r="4.9"/>
<circle cx="400.1" cy="785.1" r="4.9"/>
<circle cx="408.9" cy="785.6" r="4.9"/>
<circle cx="415.9" cy="785.2" r="4.9"/>
<circle cx="421.9" cy="784.6" r="4.9"/>
<circle cx="405.6" cy="791.9" r="4.9"/>
<circle cx="410.8" cy="790.1" r="4.9"/>
<circle cx="417.6" cy="791.8" r="4.9"/>
<circle cx="398.2" cy="796.9" r="4.9"/>
<circle cx="405.5" cy="798.6" r="4.9"/>
<circle cx="411.0" cy="796.3" r="4.9"/>
<circle cx="418.0" cy="797.3" r="4.9"/>
<circle cx="425.4" cy="796.8" r="4.9"/>
<circle cx="397.8" cy="804.3" r="4.9"/>
<circle cx="404.8" cy="802.9" r="4.9"/>
<circle cx="413.5" cy="803.2" r="4.9"/>
<circle cx="420.5" cy="803.0" r="4.9"/>
<circle cx="426.4" cy="804.4" r="4.9"/>
<circle cx="394.0" cy="811.0" r="4.9"/>
<circle cx="401.5" cy="809.0" r="4.9"/>
<circle cx="408.0" cy="809.6" r="4.9"/>
<circle cx="416.3" cy="811.0" r="4.9"/>
<circle cx="422.2" cy="809.6" r="4.9"/>
<circle cx="430.0" cy="811.1" r="4.9"/>
<circle cx="398.6" cy="814.8" r="4.9"/>
<circle cx="404.5" cy="815.7" r="4.9"/>
<circle cx="413.2" cy="817.0" r="4.9"/>
<circle cx="419.3" cy="817.3" r="4.9"/>
<circle cx="426.4" cy="815.6" r="4.9"/>
<circle cx="397.8" cy="823.3" r="4.9"/>
<circle cx="405.5" cy="821.0" r="4.9"/>
<circle cx="412.0" cy="821.9" r="4.9"/>
<circle cx="417.8" cy="821.7" r="4.9"/>
<circle cx="424.4" cy="820.9" r="4.9"/>
<circle cx="404.0" cy="827.9" r="4.9"/>
<circle cx="412.5" cy="827.3" r="4.9"/>
<circle cx="419.6" cy="827.6" r="4.9"/>
<circle cx="403.0" cy="835.3" r="4.9"/>
<circle cx="412.1" cy="834.3" r="4.9"/>
<circle cx="418.8" cy="834.4" r="4.9"/>
<circle cx="400.0" cy="851.6" r="4.9"/>
<circle cx="407.1" cy="850.2" r="4.9"/>
<circle cx="416.7" cy="849.3" r="4.9"/>
<circle cx="423.3" cy="851.3" r="4.9"/>
<circle cx="405.8" cy="855.1" r="4.9"/>
<circle cx="410.3" cy="855.1" r="4.9"/>
<circle cx="418.7" cy="855.6" r="4.9"/>
<circle cx="404.9" cy="863.0" r="4.9"/>
<circle cx="411.0" cy="861.4" r="4.9"/>
<circle cx="418.7" cy="862.3" r="4.9"/>
<circle cx="408.7" cy="868.3" r="4.9"/>
<circle cx="413.9" cy="867.1" r="4.9"/>
<circle cx="407.1" cy="874.1" r="4.9"/>
<circle cx="416.1" cy="873.8" r="4.9"/>
<circle cx="409.5" cy="877.9" r="4.9"/>
<circle cx="413.5" cy="879.1" r="4.9"/>
<circle cx="410.2" cy="886.1" r="4.9"/>
<circle cx="412.8" cy="884.3" r="4.9"/>
<circle cx="410.1" cy="890.6" r="4.9"/>
<circle cx="413.0" cy="889.8" r="4.9"/>
<circle cx="410.6" cy="905.3" r="4.9"/>
<circle cx="412.8" cy="905.4" r="4.9"/>
<circle cx="410.3" cy="910.9" r="4.9"/>
<circle cx="412.2" cy="911.0" r="4.9"/>
<circle cx="410.6" cy="916.9" r="4.9"/>
<circle cx="411.7" cy="918.7" r="4.9"/>
<circle cx="409.9" cy="924.1" r="4.9"/>
</g>
<line x1="157.7" y1="790.5" x2="207.7" y2="790.5" stroke="#000" stroke-width="4" />
<line x1="182.7" y1="785.8" x2="182.7" y2="795.2" stroke="#000" stroke-width="4" />
<line x1="168.7" y1="785.8" x2="196.7" y2="785.8" stroke="#000" stroke-width="4" />
<line x1="168.7" y1="795.2" x2="196.7" y2="795.2" stroke="#000" stroke-width="4" />
<line x1="233.8" y1="840.7" x2="283.8" y2="840.7" stroke="#000" stroke-width="4" />
<line x1="258.8" y1="836.9" x2="258.8" y2="844.5" stroke="#000" stroke-width="4" />
<line x1="244.8" y1="836.9" x2="272.8" y2="836.9" stroke="#000" stroke-width="4" />
<line x1="244.8" y1="844.5" x2="272.8" y2="844.5" stroke="#000" stroke-width="4" />
<line x1="310.1" y1="809.2" x2="360.1" y2="809.2" stroke="#000" stroke-width="4" />
<line x1="335.1" y1="804.6" x2="335.1" y2="813.8" stroke="#000" stroke-width="4" />
<line x1="321.1" y1="804.6" x2="349.1" y2="804.6" stroke="#000" stroke-width="4" />
<line x1="321.1" y1="813.8" x2="349.1" y2="813.8" stroke="#000" stroke-width="4" />
<line x1="386.4" y1="813.7" x2="436.4" y2="813.7" stroke="#000" stroke-width="4" />
<line x1="411.4" y1="809.4" x2="411.4" y2="818.0" stroke="#000" stroke-width="4" />
<line x1="397.4" y1="809.4" x2="425.4" y2="809.4" stroke="#000" stroke-width="4" />
<line x1="397.4" y1="818.0" x2="425.4" y2="818.0" stroke="#000" stroke-width="4" />
<line x1="132.8" y1="650.4" x2="132.8" y2="982.6" stroke="#000" stroke-width="3.6" />
<line x1="118.3" y1="929.1" x2="134.6" y2="929.1" stroke="#000" stroke-width="3.4" />
<text x="109.4" y="939.8" font-size="26" text-anchor="end">0.6</text>
<line x1="118.3" y1="859.8" x2="134.6" y2="859.8" stroke="#000" stroke-width="3.4" />
<text x="109.4" y="870.5" font-size="26" text-anchor="end">0.8</text>
<line x1="118.3" y1="790.5" x2="134.6" y2="790.5" stroke="#000" stroke-width="3.4" />
<text x="109.4" y="801.2" font-size="26" text-anchor="end">1.0</text>
<line x1="118.3" y1="721.2" x2="134.6" y2="721.2" stroke="#000" stroke-width="3.4" />
<text x="109.4" y="731.9" font-size="26" text-anchor="end">1.2</text>
<line x1="118.3" y1="651.9" x2="134.6" y2="651.9" stroke="#000" stroke-width="3.4" />
<text x="109.4" y="662.6" font-size="26" text-anchor="end">1.4</text>
<line x1="125.8" y1="963.8" x2="134.6" y2="963.8" stroke="#000" stroke-width="3.4" />
<line x1="125.8" y1="894.5" x2="134.6" y2="894.5" stroke="#000" stroke-width="3.4" />
<line x1="125.8" y1="825.1" x2="134.6" y2="825.1" stroke="#000" stroke-width="3.4" />
<line x1="125.8" y1="755.8" x2="134.6" y2="755.8" stroke="#000" stroke-width="3.4" />
<line x1="125.8" y1="686.5" x2="134.6" y2="686.5" stroke="#000" stroke-width="3.4" />
<line x1="131.0" y1="980.8" x2="462.3" y2="980.8" stroke="#000" stroke-width="3.6" />
<line x1="182.7" y1="979.0" x2="182.7" y2="994.8" stroke="#000" stroke-width="3.4" />
<line x1="258.8" y1="979.0" x2="258.8" y2="994.8" stroke="#000" stroke-width="3.4" />
<line x1="335.1" y1="979.0" x2="335.1" y2="994.8" stroke="#000" stroke-width="3.4" />
<line x1="411.4" y1="979.0" x2="411.4" y2="994.8" stroke="#000" stroke-width="3.4" />
<text transform="translate(19.8,812.3) rotate(-90)" font-size="26.5" text-anchor="middle" font-weight="bold">ER calcium</text>
<text transform="translate(49.5,812.3) rotate(-90)" font-size="26.5" text-anchor="middle">(ER-GCaMP6-201 F488/F405)</text>
<text transform="translate(194.7,1018.3) rotate(-45)" font-size="26" text-anchor="end">scr shRNA</text>
<text transform="translate(272.8,1015.3) rotate(-45)" font-size="26" text-anchor="end">Wfs1 shRNA</text>
<text transform="translate(349.1,1014.0) rotate(-45)" font-size="26" text-anchor="end">RyR2 shRNA</text>
<text transform="translate(424.4,1015.3) rotate(-45)" font-size="26" text-anchor="end">Wfs1 shRNA</text>
<text transform="translate(461.2,1011.6) rotate(-45)" font-size="26" text-anchor="end">+ RyR2 shRNA</text>
<text x="161.0" y="625.4" font-size="18.4"><tspan font-style="italic">p</tspan> &lt; 0.0001</text>
<text x="295.0" y="636.2" font-size="18.4"><tspan font-style="italic">p</tspan> &lt; 0.0001</text>
<line x1="180.0" y1="630.5" x2="256.7" y2="630.5" stroke="#000" stroke-width="2.3" />
<line x1="256.7" y1="642.9" x2="409.0" y2="642.9" stroke="#000" stroke-width="2.3" />
<text x="505.6" y="612.0" font-size="59">c</text>
<line x1="631.1" y1="866.5" x2="968.7" y2="866.5" stroke="#5c5c5c" stroke-width="2" stroke-dasharray="2.1 3.5"/>
<g fill="#FF2600">
<circle cx="678.5" cy="773.0" r="4.9"/>
<circle cx="678.9" cy="786.6" r="4.9"/>
<circle cx="680.2" cy="795.8" r="4.9"/>
<circle cx="682.0" cy="793.5" r="4.9"/>
<circle cx="675.6" cy="803.1" r="4.9"/>
<circle cx="680.9" cy="803.0" r="4.9"/>
<circle cx="674.0" cy="811.4" r="4.9"/>
<circle cx="682.9" cy="812.1" r="4.9"/>
<circle cx="672.2" cy="821.1" r="4.9"/>
<circle cx="685.4" cy="819.2" r="4.9"/>
<circle cx="673.5" cy="828.2" r="4.9"/>
<circle cx="684.9" cy="828.4" r="4.9"/>
<circle cx="670.3" cy="836.5" r="4.9"/>
<circle cx="678.3" cy="836.6" r="4.9"/>
<circle cx="687.5" cy="838.3" r="4.9"/>
<circle cx="674.0" cy="845.4" r="4.9"/>
<circle cx="684.0" cy="847.1" r="4.9"/>
<circle cx="664.1" cy="853.7" r="4.9"/>
<circle cx="675.0" cy="854.8" r="4.9"/>
<circle cx="685.6" cy="853.4" r="4.9"/>
<circle cx="694.4" cy="855.2" r="4.9"/>
<circle cx="670.2" cy="864.1" r="4.9"/>
<circle cx="677.7" cy="862.4" r="4.9"/>
<circle cx="687.1" cy="862.2" r="4.9"/>
<circle cx="662.0" cy="871.7" r="4.9"/>
<circle cx="671.4" cy="871.2" r="4.9"/>
<circle cx="680.1" cy="871.4" r="4.9"/>
<circle cx="687.4" cy="872.2" r="4.9"/>
<circle cx="697.5" cy="870.5" r="4.9"/>
<circle cx="665.5" cy="880.4" r="4.9"/>
<circle cx="674.0" cy="879.7" r="4.9"/>
<circle cx="683.2" cy="879.3" r="4.9"/>
<circle cx="692.8" cy="880.3" r="4.9"/>
<circle cx="669.5" cy="887.9" r="4.9"/>
<circle cx="678.6" cy="888.2" r="4.9"/>
<circle cx="690.7" cy="887.8" r="4.9"/>
<circle cx="672.6" cy="896.4" r="4.9"/>
<circle cx="686.0" cy="897.3" r="4.9"/>
<circle cx="674.3" cy="904.7" r="4.9"/>
<circle cx="678.7" cy="905.9" r="4.9"/>
<circle cx="674.3" cy="913.2" r="4.9"/>
<circle cx="683.2" cy="914.8" r="4.9"/>
<circle cx="673.6" cy="922.3" r="4.9"/>
<circle cx="685.0" cy="924.0" r="4.9"/>
<circle cx="673.0" cy="931.6" r="4.9"/>
<circle cx="679.0" cy="931.2" r="4.9"/>
<circle cx="677.9" cy="940.6" r="4.9"/>
<circle cx="671.4" cy="948.1" r="4.9"/>
</g>
<g fill="#FF2600">
<circle cx="755.7" cy="651.3" r="4.9"/>
<circle cx="754.6" cy="700.9" r="4.9"/>
<circle cx="749.9" cy="720.2" r="4.9"/>
<circle cx="753.8" cy="730.5" r="4.9"/>
<circle cx="757.7" cy="728.7" r="4.9"/>
<circle cx="754.6" cy="746.1" r="4.9"/>
<circle cx="750.5" cy="755.4" r="4.9"/>
<circle cx="758.9" cy="754.7" r="4.9"/>
<circle cx="749.1" cy="762.6" r="4.9"/>
<circle cx="760.0" cy="762.1" r="4.9"/>
<circle cx="746.9" cy="772.0" r="4.9"/>
<circle cx="753.8" cy="770.9" r="4.9"/>
<circle cx="763.6" cy="772.1" r="4.9"/>
<circle cx="735.0" cy="778.2" r="4.9"/>
<circle cx="746.5" cy="780.4" r="4.9"/>
<circle cx="755.3" cy="778.0" r="4.9"/>
<circle cx="766.4" cy="778.9" r="4.9"/>
<circle cx="775.8" cy="779.5" r="4.9"/>
<circle cx="746.5" cy="794.8" r="4.9"/>
<circle cx="756.1" cy="795.0" r="4.9"/>
<circle cx="764.4" cy="796.6" r="4.9"/>
<circle cx="750.0" cy="803.5" r="4.9"/>
<circle cx="759.8" cy="804.1" r="4.9"/>
<circle cx="750.0" cy="812.7" r="4.9"/>
<circle cx="759.2" cy="812.4" r="4.9"/>
<circle cx="751.0" cy="822.7" r="4.9"/>
<circle cx="760.8" cy="821.8" r="4.9"/>
<circle cx="749.8" cy="829.1" r="4.9"/>
<circle cx="762.5" cy="829.3" r="4.9"/>
<circle cx="747.7" cy="839.1" r="4.9"/>
<circle cx="755.9" cy="838.5" r="4.9"/>
<circle cx="749.9" cy="847.8" r="4.9"/>
<circle cx="760.6" cy="848.0" r="4.9"/>
<circle cx="749.9" cy="856.1" r="4.9"/>
<circle cx="760.0" cy="856.6" r="4.9"/>
<circle cx="753.5" cy="864.2" r="4.9"/>
<circle cx="761.0" cy="865.7" r="4.9"/>
<circle cx="750.0" cy="872.7" r="4.9"/>
<circle cx="760.6" cy="872.6" r="4.9"/>
<circle cx="754.7" cy="898.8" r="4.9"/>
</g>
<g fill="#FF2600">
<circle cx="828.4" cy="753.7" r="4.9"/>
<circle cx="833.8" cy="752.7" r="4.9"/>
<circle cx="829.1" cy="761.5" r="4.9"/>
<circle cx="834.1" cy="763.3" r="4.9"/>
<circle cx="831.5" cy="790.3" r="4.9"/>
<circle cx="828.2" cy="798.3" r="4.9"/>
<circle cx="835.4" cy="797.7" r="4.9"/>
<circle cx="827.5" cy="807.7" r="4.9"/>
<circle cx="831.1" cy="807.2" r="4.9"/>
<circle cx="823.7" cy="824.2" r="4.9"/>
<circle cx="833.8" cy="824.2" r="4.9"/>
<circle cx="823.2" cy="830.2" r="4.9"/>
<circle cx="832.1" cy="832.2" r="4.9"/>
<circle cx="838.9" cy="830.7" r="4.9"/>
<circle cx="818.0" cy="838.4" r="4.9"/>
<circle cx="827.7" cy="838.7" r="4.9"/>
<circle cx="836.5" cy="838.3" r="4.9"/>
<circle cx="844.8" cy="840.3" r="4.9"/>
<circle cx="825.2" cy="846.8" r="4.9"/>
<circle cx="836.2" cy="846.9" r="4.9"/>
<circle cx="819.3" cy="854.7" r="4.9"/>
<circle cx="830.0" cy="856.7" r="4.9"/>
<circle cx="842.1" cy="856.6" r="4.9"/>
<circle cx="822.1" cy="864.4" r="4.9"/>
<circle cx="829.9" cy="863.7" r="4.9"/>
<circle cx="839.6" cy="863.3" r="4.9"/>
<circle cx="812.1" cy="872.0" r="4.9"/>
<circle cx="821.7" cy="872.8" r="4.9"/>
<circle cx="830.3" cy="873.1" r="4.9"/>
<circle cx="841.6" cy="871.5" r="4.9"/>
<circle cx="851.5" cy="871.2" r="4.9"/>
<circle cx="823.2" cy="880.1" r="4.9"/>
<circle cx="830.6" cy="880.6" r="4.9"/>
<circle cx="839.2" cy="879.1" r="4.9"/>
<circle cx="827.3" cy="886.9" r="4.9"/>
<circle cx="836.2" cy="887.4" r="4.9"/>
<circle cx="828.7" cy="897.5" r="4.9"/>
<circle cx="834.7" cy="896.7" r="4.9"/>
<circle cx="831.2" cy="903.7" r="4.9"/>
<circle cx="830.7" cy="912.1" r="4.9"/>
<circle cx="829.1" cy="931.8" r="4.9"/>
<circle cx="833.8" cy="933.0" r="4.9"/>
<circle cx="829.5" cy="952.7" r="4.9"/>
<circle cx="834.0" cy="952.1" r="4.9"/>
<circle cx="828.2" cy="960.0" r="4.9"/>
</g>
<g fill="#FF2600">
<circle cx="907.1" cy="746.9" r="4.9"/>
<circle cx="907.3" cy="757.9" r="4.9"/>
<circle cx="907.4" cy="780.7" r="4.9"/>
<circle cx="908.3" cy="789.4" r="4.9"/>
<circle cx="905.8" cy="798.9" r="4.9"/>
<circle cx="908.4" cy="796.8" r="4.9"/>
<circle cx="904.4" cy="806.4" r="4.9"/>
<circle cx="911.0" cy="806.8" r="4.9"/>
<circle cx="906.3" cy="813.8" r="4.9"/>
<circle cx="907.5" cy="814.8" r="4.9"/>
<circle cx="904.0" cy="822.3" r="4.9"/>
<circle cx="911.6" cy="822.6" r="4.9"/>
<circle cx="904.4" cy="831.6" r="4.9"/>
<circle cx="911.4" cy="832.1" r="4.9"/>
<circle cx="903.9" cy="839.4" r="4.9"/>
<circle cx="910.7" cy="838.7" r="4.9"/>
<circle cx="901.2" cy="848.4" r="4.9"/>
<circle cx="912.0" cy="847.8" r="4.9"/>
<circle cx="903.0" cy="855.0" r="4.9"/>
<circle cx="910.7" cy="856.3" r="4.9"/>
<circle cx="905.9" cy="864.7" r="4.9"/>
<circle cx="910.2" cy="863.4" r="4.9"/>
<circle cx="906.6" cy="872.1" r="4.9"/>
<circle cx="912.0" cy="873.6" r="4.9"/>
<circle cx="888.7" cy="886.8" r="4.9"/>
<circle cx="896.8" cy="887.1" r="4.9"/>
<circle cx="908.4" cy="886.1" r="4.9"/>
<circle cx="918.1" cy="886.1" r="4.9"/>
<circle cx="926.8" cy="885.2" r="4.9"/>
<circle cx="902.9" cy="894.0" r="4.9"/>
<circle cx="912.7" cy="895.9" r="4.9"/>
<circle cx="906.2" cy="905.1" r="4.9"/>
<circle cx="909.9" cy="903.6" r="4.9"/>
<circle cx="906.9" cy="913.1" r="4.9"/>
<circle cx="909.1" cy="913.3" r="4.9"/>
<circle cx="905.4" cy="922.4" r="4.9"/>
</g>
<line x1="654.5" y1="866.1" x2="703.5" y2="866.1" stroke="#000" stroke-width="4" />
<line x1="679.0" y1="861.2" x2="679.0" y2="871.0" stroke="#000" stroke-width="4" />
<line x1="665.5" y1="861.2" x2="692.5" y2="861.2" stroke="#000" stroke-width="4" />
<line x1="665.5" y1="871.0" x2="692.5" y2="871.0" stroke="#000" stroke-width="4" />
<line x1="730.0" y1="796.7" x2="779.0" y2="796.7" stroke="#000" stroke-width="4" />
<line x1="754.5" y1="790.4" x2="754.5" y2="803.0" stroke="#000" stroke-width="4" />
<line x1="741.0" y1="790.4" x2="768.0" y2="790.4" stroke="#000" stroke-width="4" />
<line x1="741.0" y1="803.0" x2="768.0" y2="803.0" stroke="#000" stroke-width="4" />
<line x1="806.9" y1="856.5" x2="855.9" y2="856.5" stroke="#000" stroke-width="4" />
<line x1="831.4" y1="851.0" x2="831.4" y2="862.0" stroke="#000" stroke-width="4" />
<line x1="817.9" y1="851.0" x2="844.9" y2="851.0" stroke="#000" stroke-width="4" />
<line x1="817.9" y1="862.0" x2="844.9" y2="862.0" stroke="#000" stroke-width="4" />
<line x1="883.0" y1="856.1" x2="932.0" y2="856.1" stroke="#000" stroke-width="4" />
<line x1="907.5" y1="850.8" x2="907.5" y2="861.4" stroke="#000" stroke-width="4" />
<line x1="894.0" y1="850.8" x2="921.0" y2="850.8" stroke="#000" stroke-width="4" />
<line x1="894.0" y1="861.4" x2="921.0" y2="861.4" stroke="#000" stroke-width="4" />
<line x1="629.1" y1="650.5" x2="629.1" y2="982.1" stroke="#000" stroke-width="3.6" />
<line x1="614.6" y1="957.4" x2="630.9" y2="957.4" stroke="#000" stroke-width="3.4" />
<text x="608.0" y="966.1" font-size="26" text-anchor="end">0.8</text>
<line x1="614.6" y1="866.1" x2="630.9" y2="866.1" stroke="#000" stroke-width="3.4" />
<text x="608.0" y="874.8" font-size="26" text-anchor="end">1.0</text>
<line x1="614.6" y1="774.8" x2="630.9" y2="774.8" stroke="#000" stroke-width="3.4" />
<text x="608.0" y="783.5" font-size="26" text-anchor="end">1.2</text>
<line x1="614.6" y1="683.5" x2="630.9" y2="683.5" stroke="#000" stroke-width="3.4" />
<text x="608.0" y="692.2" font-size="26" text-anchor="end">1.4</text>
<line x1="622.1" y1="911.8" x2="630.9" y2="911.8" stroke="#000" stroke-width="3.4" />
<line x1="622.1" y1="820.4" x2="630.9" y2="820.4" stroke="#000" stroke-width="3.4" />
<line x1="622.1" y1="729.1" x2="630.9" y2="729.1" stroke="#000" stroke-width="3.4" />
<line x1="627.5" y1="980.3" x2="958.1" y2="980.3" stroke="#000" stroke-width="3.6" />
<line x1="679.0" y1="978.5" x2="679.0" y2="994.3" stroke="#000" stroke-width="3.4" />
<line x1="754.5" y1="978.5" x2="754.5" y2="994.3" stroke="#000" stroke-width="3.4" />
<line x1="831.4" y1="978.5" x2="831.4" y2="994.3" stroke="#000" stroke-width="3.4" />
<line x1="907.5" y1="978.5" x2="907.5" y2="994.3" stroke="#000" stroke-width="3.4" />
<text transform="translate(524.0,809.5) rotate(-90)" font-size="26.5" text-anchor="middle" font-weight="bold">Axoplasmic calcium</text>
<text transform="translate(551.5,808.8) rotate(-90)" font-size="26.5" text-anchor="middle">(jGCaMP7b F488/F405)</text>
<text transform="translate(693.6,1017.9) rotate(-45)" font-size="26" text-anchor="end">scr shRNA</text>
<text transform="translate(772.1,1014.8) rotate(-45)" font-size="26" text-anchor="end">Wfs1 shRNA</text>
<text transform="translate(848.9,1014.2) rotate(-45)" font-size="26" text-anchor="end">RyR2 shRNA</text>
<text transform="translate(922.9,1014.8) rotate(-45)" font-size="26" text-anchor="end">Wfs1 shRNA</text>
<text transform="translate(959.3,1011.1) rotate(-45)" font-size="26" text-anchor="end">+ RyR2 shRNA</text>
<text x="658.0" y="625.0" font-size="18.4"><tspan font-style="italic">p</tspan> &lt; 0.0001</text>
<text x="791.5" y="635.6" font-size="18.4"><tspan font-style="italic">p</tspan> &lt; 0.0001</text>
<line x1="678.5" y1="630.5" x2="754.0" y2="630.5" stroke="#000" stroke-width="2.3" />
<line x1="754.0" y1="642.6" x2="907.0" y2="642.6" stroke="#000" stroke-width="2.3" />
<text x="1012.7" y="612.0" font-size="59">d</text>
<line x1="1158.7" y1="753.9" x2="1481.0" y2="753.9" stroke="#5c5c5c" stroke-width="2" stroke-dasharray="2.1 3.5"/>
<g fill="#FF2600">
<circle cx="1200.3" cy="675.9" r="4.9"/>
<circle cx="1206.6" cy="678.4" r="4.9"/>
<circle cx="1212.9" cy="678.9" r="4.9"/>
<circle cx="1200.3" cy="698.6" r="4.9"/>
<circle cx="1209.1" cy="698.6" r="4.9"/>
<circle cx="1206.6" cy="709.2" r="4.9"/>
<circle cx="1206.6" cy="722.5" r="4.9"/>
<circle cx="1185.2" cy="740.1" r="4.9"/>
<circle cx="1191.5" cy="736.4" r="4.9"/>
<circle cx="1197.8" cy="733.8" r="4.9"/>
<circle cx="1204.1" cy="732.6" r="4.9"/>
<circle cx="1210.4" cy="733.3" r="4.9"/>
<circle cx="1216.7" cy="733.8" r="4.9"/>
<circle cx="1223.0" cy="736.4" r="4.9"/>
<circle cx="1228.0" cy="739.4" r="4.9"/>
<circle cx="1200.3" cy="743.4" r="4.9"/>
<circle cx="1212.9" cy="745.9" r="4.9"/>
<circle cx="1200.3" cy="754.0" r="4.9"/>
<circle cx="1212.9" cy="754.0" r="4.9"/>
<circle cx="1210.4" cy="761.6" r="4.9"/>
<circle cx="1216.7" cy="771.6" r="4.9"/>
<circle cx="1197.8" cy="781.7" r="4.9"/>
<circle cx="1204.1" cy="784.2" r="4.9"/>
<circle cx="1216.7" cy="783.0" r="4.9"/>
<circle cx="1210.4" cy="790.5" r="4.9"/>
<circle cx="1204.1" cy="796.8" r="4.9"/>
<circle cx="1216.7" cy="803.1" r="4.9"/>
<circle cx="1210.4" cy="809.4" r="4.9"/>
<circle cx="1197.8" cy="808.9" r="4.9"/>
<circle cx="1206.6" cy="823.3" r="4.9"/>
<circle cx="1206.6" cy="842.2" r="4.9"/>
</g>
<g fill="#FF2600">
<circle cx="1282.7" cy="748.5" r="4.9"/>
<circle cx="1282.7" cy="783.0" r="4.9"/>
<circle cx="1293.5" cy="797.3" r="4.9"/>
<circle cx="1275.9" cy="804.4" r="4.9"/>
<circle cx="1282.7" cy="801.4" r="4.9"/>
<circle cx="1288.5" cy="805.7" r="4.9"/>
<circle cx="1299.3" cy="814.0" r="4.9"/>
<circle cx="1263.3" cy="824.6" r="4.9"/>
<circle cx="1270.8" cy="824.6" r="4.9"/>
<circle cx="1277.1" cy="822.0" r="4.9"/>
<circle cx="1288.5" cy="823.3" r="4.9"/>
<circle cx="1294.8" cy="819.5" r="4.9"/>
<circle cx="1303.6" cy="822.0" r="4.9"/>
<circle cx="1265.8" cy="831.6" r="4.9"/>
<circle cx="1272.1" cy="836.6" r="4.9"/>
<circle cx="1279.7" cy="833.4" r="4.9"/>
<circle cx="1287.2" cy="832.1" r="4.9"/>
<circle cx="1293.5" cy="837.1" r="4.9"/>
<circle cx="1279.7" cy="840.9" r="4.9"/>
<circle cx="1287.2" cy="845.5" r="4.9"/>
<circle cx="1282.7" cy="863.6" r="4.9"/>
<circle cx="1282.7" cy="898.9" r="4.9"/>
</g>
<g fill="#FF2600">
<circle cx="1359.0" cy="689.8" r="4.9"/>
<circle cx="1351.5" cy="740.1" r="4.9"/>
<circle cx="1362.8" cy="736.4" r="4.9"/>
<circle cx="1367.9" cy="740.1" r="4.9"/>
<circle cx="1359.0" cy="759.0" r="4.9"/>
<circle cx="1343.9" cy="773.7" r="4.9"/>
<circle cx="1352.7" cy="776.2" r="4.9"/>
<circle cx="1362.8" cy="776.7" r="4.9"/>
<circle cx="1372.9" cy="771.6" r="4.9"/>
<circle cx="1347.7" cy="781.7" r="4.9"/>
<circle cx="1359.0" cy="781.7" r="4.9"/>
<circle cx="1367.9" cy="779.2" r="4.9"/>
<circle cx="1338.9" cy="808.9" r="4.9"/>
<circle cx="1346.4" cy="805.7" r="4.9"/>
<circle cx="1352.7" cy="811.4" r="4.9"/>
<circle cx="1359.0" cy="809.4" r="4.9"/>
<circle cx="1365.3" cy="804.4" r="4.9"/>
<circle cx="1371.6" cy="805.7" r="4.9"/>
<circle cx="1379.2" cy="811.4" r="4.9"/>
<circle cx="1352.7" cy="819.5" r="4.9"/>
<circle cx="1359.0" cy="824.6" r="4.9"/>
<circle cx="1362.8" cy="828.3" r="4.9"/>
<circle cx="1359.0" cy="839.7" r="4.9"/>
<circle cx="1359.0" cy="842.2" r="4.9"/>
<circle cx="1359.0" cy="863.6" r="4.9"/>
<circle cx="1359.0" cy="898.9" r="4.9"/>
<circle cx="1359.0" cy="914.0" r="4.9"/>
</g>
<g fill="#FF2600">
<circle cx="1432.1" cy="657.0" r="4.9"/>
<circle cx="1439.7" cy="655.7" r="4.9"/>
<circle cx="1432.1" cy="683.0" r="4.9"/>
<circle cx="1439.7" cy="687.2" r="4.9"/>
<circle cx="1435.1" cy="705.6" r="4.9"/>
<circle cx="1435.1" cy="726.3" r="4.9"/>
<circle cx="1435.1" cy="740.9" r="4.9"/>
<circle cx="1435.1" cy="751.5" r="4.9"/>
<circle cx="1428.3" cy="756.5" r="4.9"/>
<circle cx="1442.2" cy="761.6" r="4.9"/>
<circle cx="1448.5" cy="761.6" r="4.9"/>
<circle cx="1414.5" cy="773.7" r="4.9"/>
<circle cx="1422.0" cy="777.2" r="4.9"/>
<circle cx="1428.3" cy="772.9" r="4.9"/>
<circle cx="1442.2" cy="774.2" r="4.9"/>
<circle cx="1428.3" cy="786.3" r="4.9"/>
<circle cx="1442.2" cy="786.8" r="4.9"/>
<circle cx="1435.1" cy="790.5" r="4.9"/>
<circle cx="1423.3" cy="808.2" r="4.9"/>
<circle cx="1430.8" cy="812.7" r="4.9"/>
<circle cx="1440.9" cy="805.7" r="4.9"/>
<circle cx="1447.2" cy="809.4" r="4.9"/>
<circle cx="1435.1" cy="829.6" r="4.9"/>
<circle cx="1435.1" cy="851.0" r="4.9"/>
<circle cx="1430.8" cy="872.4" r="4.9"/>
<circle cx="1448.5" cy="861.1" r="4.9"/>
<circle cx="1447.2" cy="872.4" r="4.9"/>
<circle cx="1435.1" cy="973.2" r="4.9"/>
</g>
<line x1="1182.3" y1="754.0" x2="1230.9" y2="754.0" stroke="#000" stroke-width="4" />
<line x1="1206.6" y1="745.6" x2="1206.6" y2="762.4" stroke="#000" stroke-width="4" />
<line x1="1193.3" y1="745.6" x2="1219.8" y2="745.6" stroke="#000" stroke-width="4" />
<line x1="1193.3" y1="762.4" x2="1219.8" y2="762.4" stroke="#000" stroke-width="4" />
<line x1="1258.4" y1="824.0" x2="1307.0" y2="824.0" stroke="#000" stroke-width="4" />
<line x1="1282.7" y1="819.2" x2="1282.7" y2="828.8" stroke="#000" stroke-width="4" />
<line x1="1269.5" y1="819.2" x2="1296.0" y2="819.2" stroke="#000" stroke-width="4" />
<line x1="1269.5" y1="828.8" x2="1296.0" y2="828.8" stroke="#000" stroke-width="4" />
<line x1="1334.7" y1="796.8" x2="1383.3" y2="796.8" stroke="#000" stroke-width="4" />
<line x1="1359.0" y1="788.5" x2="1359.0" y2="805.1" stroke="#000" stroke-width="4" />
<line x1="1345.8" y1="788.5" x2="1372.2" y2="788.5" stroke="#000" stroke-width="4" />
<line x1="1345.8" y1="805.1" x2="1372.2" y2="805.1" stroke="#000" stroke-width="4" />
<line x1="1410.8" y1="783.0" x2="1459.4" y2="783.0" stroke="#000" stroke-width="4" />
<line x1="1435.1" y1="770.4" x2="1435.1" y2="795.6" stroke="#000" stroke-width="4" />
<line x1="1421.8" y1="770.4" x2="1448.3" y2="770.4" stroke="#000" stroke-width="4" />
<line x1="1421.8" y1="795.6" x2="1448.3" y2="795.6" stroke="#000" stroke-width="4" />
<line x1="1156.7" y1="648.7" x2="1156.7" y2="982.1" stroke="#000" stroke-width="3.6" />
<line x1="1142.2" y1="960.1" x2="1158.5" y2="960.1" stroke="#000" stroke-width="3.4" />
<text x="1134.6" y="967.2" font-size="26" text-anchor="end">0.6</text>
<line x1="1142.2" y1="856.8" x2="1158.5" y2="856.8" stroke="#000" stroke-width="3.4" />
<text x="1134.6" y="863.9" font-size="26" text-anchor="end">0.8</text>
<line x1="1142.2" y1="753.5" x2="1158.5" y2="753.5" stroke="#000" stroke-width="3.4" />
<text x="1134.6" y="760.6" font-size="26" text-anchor="end">1.0</text>
<line x1="1142.2" y1="650.2" x2="1158.5" y2="650.2" stroke="#000" stroke-width="3.4" />
<text x="1134.6" y="657.3" font-size="26" text-anchor="end">1.2</text>
<line x1="1149.7" y1="908.5" x2="1158.5" y2="908.5" stroke="#000" stroke-width="3.4" />
<line x1="1149.7" y1="805.1" x2="1158.5" y2="805.1" stroke="#000" stroke-width="3.4" />
<line x1="1149.7" y1="701.8" x2="1158.5" y2="701.8" stroke="#000" stroke-width="3.4" />
<line x1="1155.0" y1="980.3" x2="1481.0" y2="980.3" stroke="#000" stroke-width="3.6" />
<line x1="1206.6" y1="978.5" x2="1206.6" y2="994.3" stroke="#000" stroke-width="3.4" />
<line x1="1282.7" y1="978.5" x2="1282.7" y2="994.3" stroke="#000" stroke-width="3.4" />
<line x1="1359.0" y1="978.5" x2="1359.0" y2="994.3" stroke="#000" stroke-width="3.4" />
<line x1="1435.1" y1="978.5" x2="1435.1" y2="994.3" stroke="#000" stroke-width="3.4" />
<text transform="translate(1046.6,807.6) rotate(-90)" font-size="26.5" text-anchor="middle" font-weight="bold">ER calcium</text>
<text transform="translate(1074.5,806.9) rotate(-90)" font-size="26.5" text-anchor="middle">(ER-GCaMP6-201 F488/F405)</text>
<text transform="translate(1223.2,1017.8) rotate(-45)" font-size="26" text-anchor="end">scr shRNA</text>
<text transform="translate(1301.7,1017.8) rotate(-45)" font-size="26" text-anchor="end">Wfs1 shRNA</text>
<text transform="translate(1378.0,1013.2) rotate(-45)" font-size="26" text-anchor="end">Azumolene</text>
<text transform="translate(1452.7,1017.8) rotate(-45)" font-size="26" text-anchor="end">Wfs1 shRNA</text>
<text transform="translate(1485.2,1013.2) rotate(-45)" font-size="26" text-anchor="end">+ Azumolene</text>
<text x="1182.4" y="625.0" font-size="18.4"><tspan font-style="italic">p</tspan> &lt; 0.0001</text>
<text x="1314.9" y="635.6" font-size="18.4"><tspan font-style="italic">p</tspan> = 0.0048</text>
<line x1="1207.0" y1="630.0" x2="1283.4" y2="630.0" stroke="#000" stroke-width="2.3" />
<line x1="1283.4" y1="642.6" x2="1435.9" y2="642.6" stroke="#000" stroke-width="2.3" />
<text x="1531.6" y="612.0" font-size="59">e</text>
<line x1="1666.2" y1="899.3" x2="1990.0" y2="899.3" stroke="#5c5c5c" stroke-width="2" stroke-dasharray="2.1 3.5"/>
<g fill="#FF2600">
<circle cx="1703.5" cy="835.1" r="4.9"/>
<circle cx="1703.5" cy="848.0" r="4.9"/>
<circle cx="1713.6" cy="852.3" r="4.9"/>
<circle cx="1723.7" cy="844.7" r="4.9"/>
<circle cx="1703.5" cy="867.9" r="4.9"/>
<circle cx="1723.7" cy="867.4" r="4.9"/>
<circle cx="1713.6" cy="873.7" r="4.9"/>
<circle cx="1693.4" cy="886.8" r="4.9"/>
<circle cx="1703.5" cy="887.5" r="4.9"/>
<circle cx="1713.6" cy="883.8" r="4.9"/>
<circle cx="1733.7" cy="884.3" r="4.9"/>
<circle cx="1723.7" cy="893.1" r="4.9"/>
<circle cx="1693.4" cy="898.9" r="4.9"/>
<circle cx="1703.5" cy="898.9" r="4.9"/>
<circle cx="1723.7" cy="898.9" r="4.9"/>
<circle cx="1693.4" cy="907.7" r="4.9"/>
<circle cx="1703.5" cy="911.5" r="4.9"/>
<circle cx="1713.6" cy="907.7" r="4.9"/>
<circle cx="1723.7" cy="917.3" r="4.9"/>
<circle cx="1713.6" cy="917.3" r="4.9"/>
<circle cx="1703.5" cy="923.6" r="4.9"/>
<circle cx="1693.4" cy="930.4" r="4.9"/>
<circle cx="1713.6" cy="924.1" r="4.9"/>
<circle cx="1703.5" cy="934.1" r="4.9"/>
<circle cx="1723.7" cy="932.9" r="4.9"/>
<circle cx="1733.7" cy="933.4" r="4.9"/>
<circle cx="1713.6" cy="939.9" r="4.9"/>
<circle cx="1703.5" cy="949.3" r="4.9"/>
<circle cx="1723.7" cy="947.5" r="4.9"/>
</g>
<g fill="#FF2600">
<circle cx="1789.7" cy="660.8" r="4.9"/>
<circle cx="1789.7" cy="685.2" r="4.9"/>
<circle cx="1785.9" cy="741.4" r="4.9"/>
<circle cx="1794.2" cy="751.5" r="4.9"/>
<circle cx="1789.7" cy="761.6" r="4.9"/>
<circle cx="1785.9" cy="778.7" r="4.9"/>
<circle cx="1794.2" cy="786.0" r="4.9"/>
<circle cx="1785.9" cy="789.8" r="4.9"/>
<circle cx="1785.9" cy="801.4" r="4.9"/>
<circle cx="1794.2" cy="809.4" r="4.9"/>
<circle cx="1770.8" cy="813.2" r="4.9"/>
<circle cx="1778.3" cy="814.5" r="4.9"/>
<circle cx="1785.9" cy="819.5" r="4.9"/>
<circle cx="1802.3" cy="817.0" r="4.9"/>
<circle cx="1770.8" cy="846.0" r="4.9"/>
<circle cx="1778.3" cy="848.5" r="4.9"/>
<circle cx="1785.9" cy="842.2" r="4.9"/>
<circle cx="1794.7" cy="843.4" r="4.9"/>
<circle cx="1802.3" cy="851.0" r="4.9"/>
<circle cx="1810.3" cy="842.2" r="4.9"/>
<circle cx="1778.3" cy="861.1" r="4.9"/>
<circle cx="1794.2" cy="862.3" r="4.9"/>
<circle cx="1802.3" cy="869.4" r="4.9"/>
<circle cx="1785.9" cy="878.0" r="4.9"/>
<circle cx="1794.2" cy="878.0" r="4.9"/>
<circle cx="1789.7" cy="907.2" r="4.9"/>
<circle cx="1789.7" cy="917.3" r="4.9"/>
<circle cx="1789.7" cy="937.2" r="4.9"/>
</g>
<g fill="#FF2600">
<circle cx="1865.8" cy="707.4" r="4.9"/>
<circle cx="1859.0" cy="806.9" r="4.9"/>
<circle cx="1872.8" cy="803.1" r="4.9"/>
<circle cx="1872.8" cy="813.2" r="4.9"/>
<circle cx="1865.8" cy="822.0" r="4.9"/>
<circle cx="1862.7" cy="833.4" r="4.9"/>
<circle cx="1870.3" cy="835.9" r="4.9"/>
<circle cx="1859.0" cy="853.5" r="4.9"/>
<circle cx="1865.8" cy="853.5" r="4.9"/>
<circle cx="1872.8" cy="852.3" r="4.9"/>
<circle cx="1846.4" cy="885.0" r="4.9"/>
<circle cx="1853.9" cy="885.0" r="4.9"/>
<circle cx="1862.7" cy="883.3" r="4.9"/>
<circle cx="1872.8" cy="885.0" r="4.9"/>
<circle cx="1880.4" cy="890.1" r="4.9"/>
<circle cx="1887.9" cy="891.3" r="4.9"/>
<circle cx="1846.4" cy="898.9" r="4.9"/>
<circle cx="1853.9" cy="898.9" r="4.9"/>
<circle cx="1862.7" cy="900.6" r="4.9"/>
<circle cx="1870.3" cy="901.4" r="4.9"/>
<circle cx="1860.2" cy="907.7" r="4.9"/>
<circle cx="1865.8" cy="910.2" r="4.9"/>
<circle cx="1872.8" cy="909.0" r="4.9"/>
<circle cx="1872.8" cy="932.9" r="4.9"/>
<circle cx="1865.8" cy="943.0" r="4.9"/>
<circle cx="1865.8" cy="961.9" r="4.9"/>
</g>
<g fill="#FF2600">
<circle cx="1942.1" cy="730.6" r="4.9"/>
<circle cx="1930.3" cy="815.0" r="4.9"/>
<circle cx="1937.8" cy="819.5" r="4.9"/>
<circle cx="1947.1" cy="815.0" r="4.9"/>
<circle cx="1954.7" cy="813.2" r="4.9"/>
<circle cx="1937.8" cy="832.1" r="4.9"/>
<circle cx="1945.9" cy="827.1" r="4.9"/>
<circle cx="1947.1" cy="842.2" r="4.9"/>
<circle cx="1942.1" cy="856.8" r="4.9"/>
<circle cx="1938.3" cy="872.4" r="4.9"/>
<circle cx="1954.7" cy="868.6" r="4.9"/>
<circle cx="1962.3" cy="869.4" r="4.9"/>
<circle cx="1930.3" cy="881.2" r="4.9"/>
<circle cx="1947.1" cy="877.5" r="4.9"/>
<circle cx="1961.0" cy="882.5" r="4.9"/>
<circle cx="1921.9" cy="895.1" r="4.9"/>
<circle cx="1929.5" cy="895.1" r="4.9"/>
<circle cx="1938.3" cy="888.8" r="4.9"/>
<circle cx="1947.1" cy="892.6" r="4.9"/>
<circle cx="1954.7" cy="895.1" r="4.9"/>
<circle cx="1963.5" cy="895.1" r="4.9"/>
<circle cx="1942.1" cy="915.3" r="4.9"/>
<circle cx="1930.3" cy="932.9" r="4.9"/>
<circle cx="1938.3" cy="930.4" r="4.9"/>
<circle cx="1950.4" cy="930.4" r="4.9"/>
<circle cx="1930.3" cy="943.0" r="4.9"/>
<circle cx="1947.1" cy="951.3" r="4.9"/>
<circle cx="1954.7" cy="948.0" r="4.9"/>
<circle cx="1930.3" cy="958.1" r="4.9"/>
</g>
<line x1="1689.3" y1="899.6" x2="1737.9" y2="899.6" stroke="#000" stroke-width="4" />
<line x1="1713.6" y1="893.7" x2="1713.6" y2="905.5" stroke="#000" stroke-width="4" />
<line x1="1700.3" y1="893.7" x2="1726.8" y2="893.7" stroke="#000" stroke-width="4" />
<line x1="1700.3" y1="905.5" x2="1726.8" y2="905.5" stroke="#000" stroke-width="4" />
<line x1="1765.4" y1="822.5" x2="1814.0" y2="822.5" stroke="#000" stroke-width="4" />
<line x1="1789.7" y1="811.4" x2="1789.7" y2="833.6" stroke="#000" stroke-width="4" />
<line x1="1776.5" y1="811.4" x2="1803.0" y2="811.4" stroke="#000" stroke-width="4" />
<line x1="1776.5" y1="833.6" x2="1803.0" y2="833.6" stroke="#000" stroke-width="4" />
<line x1="1841.5" y1="872.4" x2="1890.1" y2="872.4" stroke="#000" stroke-width="4" />
<line x1="1865.8" y1="863.4" x2="1865.8" y2="881.4" stroke="#000" stroke-width="4" />
<line x1="1852.5" y1="863.4" x2="1879.0" y2="863.4" stroke="#000" stroke-width="4" />
<line x1="1852.5" y1="881.4" x2="1879.0" y2="881.4" stroke="#000" stroke-width="4" />
<line x1="1917.8" y1="878.7" x2="1966.4" y2="878.7" stroke="#000" stroke-width="4" />
<line x1="1942.1" y1="869.3" x2="1942.1" y2="888.1" stroke="#000" stroke-width="4" />
<line x1="1928.8" y1="869.3" x2="1955.3" y2="869.3" stroke="#000" stroke-width="4" />
<line x1="1928.8" y1="888.1" x2="1955.3" y2="888.1" stroke="#000" stroke-width="4" />
<line x1="1664.2" y1="650.8" x2="1664.2" y2="982.6" stroke="#000" stroke-width="3.6" />
<line x1="1649.7" y1="981.1" x2="1666.0" y2="981.1" stroke="#000" stroke-width="3.4" />
<text x="1643.4" y="992.1" font-size="26" text-anchor="end">0.8</text>
<line x1="1649.7" y1="898.9" x2="1666.0" y2="898.9" stroke="#000" stroke-width="3.4" />
<text x="1643.4" y="909.9" font-size="26" text-anchor="end">1.0</text>
<line x1="1649.7" y1="816.7" x2="1666.0" y2="816.7" stroke="#000" stroke-width="3.4" />
<text x="1643.4" y="827.7" font-size="26" text-anchor="end">1.2</text>
<line x1="1649.7" y1="734.5" x2="1666.0" y2="734.5" stroke="#000" stroke-width="3.4" />
<text x="1643.4" y="745.5" font-size="26" text-anchor="end">1.4</text>
<line x1="1649.7" y1="652.3" x2="1666.0" y2="652.3" stroke="#000" stroke-width="3.4" />
<text x="1643.4" y="663.3" font-size="26" text-anchor="end">1.6</text>
<line x1="1657.2" y1="940.0" x2="1666.0" y2="940.0" stroke="#000" stroke-width="3.4" />
<line x1="1657.2" y1="857.8" x2="1666.0" y2="857.8" stroke="#000" stroke-width="3.4" />
<line x1="1657.2" y1="775.6" x2="1666.0" y2="775.6" stroke="#000" stroke-width="3.4" />
<line x1="1657.2" y1="693.4" x2="1666.0" y2="693.4" stroke="#000" stroke-width="3.4" />
<line x1="1649.8" y1="980.8" x2="1990.0" y2="980.8" stroke="#000" stroke-width="3.6" />
<line x1="1713.6" y1="979.0" x2="1713.6" y2="994.8" stroke="#000" stroke-width="3.4" />
<line x1="1789.7" y1="979.0" x2="1789.7" y2="994.8" stroke="#000" stroke-width="3.4" />
<line x1="1865.8" y1="979.0" x2="1865.8" y2="994.8" stroke="#000" stroke-width="3.4" />
<line x1="1942.1" y1="979.0" x2="1942.1" y2="994.8" stroke="#000" stroke-width="3.4" />
<text transform="translate(1557.9,799.4) rotate(-90)" font-size="26.5" text-anchor="middle" font-weight="bold">Axoplasmic calcium</text>
<text transform="translate(1585.0,798.8) rotate(-90)" font-size="26.5" text-anchor="middle">(jGCaMP7b F488/F405)</text>
<text transform="translate(1730.6,1017.4) rotate(-45)" font-size="26" text-anchor="end">scr shRNA</text>
<text transform="translate(1809.3,1017.4) rotate(-45)" font-size="26" text-anchor="end">Wfs1 shRNA</text>
<text transform="translate(1885.4,1012.9) rotate(-45)" font-size="26" text-anchor="end">Azumolene</text>
<text transform="translate(1960.1,1017.6) rotate(-45)" font-size="26" text-anchor="end">Wfs1 shRNA</text>
<text transform="translate(1986.0,1013.4) rotate(-45)" font-size="26" text-anchor="end">+ Azumolene</text>
<text x="1700.7" y="625.0" font-size="18.4"><tspan font-style="italic">p</tspan> &lt; 0.0001</text>
<text x="1826.7" y="635.6" font-size="18.4"><tspan font-style="italic">p</tspan> = 0.0006</text>
<line x1="1714.6" y1="630.5" x2="1790.2" y2="630.5" stroke="#000" stroke-width="2.3" />
<line x1="1790.2" y1="642.6" x2="1943.4" y2="642.6" stroke="#000" stroke-width="2.3" />
<text x="1.8" y="1217.0" font-size="59">f</text>
<line x1="134.3" y1="1414.7" x2="463.6" y2="1414.7" stroke="#5c5c5c" stroke-width="2" stroke-dasharray="2.1 3.5"/>
<g fill="#FF2600">
<circle cx="183.2" cy="1309.0" r="4.9"/>
<circle cx="173.3" cy="1336.7" r="4.9"/>
<circle cx="193.5" cy="1343.8" r="4.9"/>
<circle cx="183.2" cy="1352.6" r="4.9"/>
<circle cx="183.2" cy="1365.9" r="4.9"/>
<circle cx="193.5" cy="1364.4" r="4.9"/>
<circle cx="173.3" cy="1377.8" r="4.9"/>
<circle cx="183.2" cy="1380.3" r="4.9"/>
<circle cx="193.5" cy="1380.8" r="4.9"/>
<circle cx="173.3" cy="1392.9" r="4.9"/>
<circle cx="183.2" cy="1391.6" r="4.9"/>
<circle cx="193.5" cy="1401.7" r="4.9"/>
<circle cx="173.3" cy="1408.0" r="4.9"/>
<circle cx="183.2" cy="1409.3" r="4.9"/>
<circle cx="163.3" cy="1421.9" r="4.9"/>
<circle cx="173.3" cy="1420.6" r="4.9"/>
<circle cx="183.2" cy="1428.2" r="4.9"/>
<circle cx="193.5" cy="1424.4" r="4.9"/>
<circle cx="163.3" cy="1433.2" r="4.9"/>
<circle cx="173.3" cy="1440.0" r="4.9"/>
<circle cx="183.2" cy="1439.5" r="4.9"/>
<circle cx="193.5" cy="1437.0" r="4.9"/>
<circle cx="203.6" cy="1433.2" r="4.9"/>
<circle cx="163.3" cy="1452.1" r="4.9"/>
<circle cx="173.3" cy="1457.7" r="4.9"/>
<circle cx="183.2" cy="1462.2" r="4.9"/>
<circle cx="193.5" cy="1457.7" r="4.9"/>
<circle cx="173.3" cy="1470.2" r="4.9"/>
<circle cx="183.2" cy="1476.0" r="4.9"/>
<circle cx="193.5" cy="1471.0" r="4.9"/>
<circle cx="183.2" cy="1505.0" r="4.9"/>
</g>
<g fill="#FF2600">
<circle cx="259.5" cy="1351.3" r="4.9"/>
<circle cx="259.5" cy="1360.9" r="4.9"/>
<circle cx="245.7" cy="1368.5" r="4.9"/>
<circle cx="272.6" cy="1369.0" r="4.9"/>
<circle cx="259.5" cy="1389.6" r="4.9"/>
<circle cx="259.5" cy="1401.7" r="4.9"/>
<circle cx="259.5" cy="1411.8" r="4.9"/>
<circle cx="252.0" cy="1442.5" r="4.9"/>
<circle cx="265.8" cy="1444.6" r="4.9"/>
<circle cx="279.7" cy="1439.5" r="4.9"/>
<circle cx="252.0" cy="1452.1" r="4.9"/>
<circle cx="259.5" cy="1457.1" r="4.9"/>
<circle cx="279.7" cy="1458.4" r="4.9"/>
<circle cx="239.4" cy="1467.2" r="4.9"/>
<circle cx="252.0" cy="1467.2" r="4.9"/>
<circle cx="279.7" cy="1473.5" r="4.9"/>
<circle cx="239.4" cy="1477.3" r="4.9"/>
<circle cx="252.0" cy="1486.1" r="4.9"/>
<circle cx="265.8" cy="1487.4" r="4.9"/>
<circle cx="239.4" cy="1488.6" r="4.9"/>
<circle cx="239.4" cy="1499.5" r="4.9"/>
<circle cx="252.0" cy="1498.0" r="4.9"/>
<circle cx="279.7" cy="1498.7" r="4.9"/>
<circle cx="259.5" cy="1515.1" r="4.9"/>
<circle cx="239.4" cy="1529.0" r="4.9"/>
<circle cx="252.0" cy="1535.3" r="4.9"/>
<circle cx="265.8" cy="1529.0" r="4.9"/>
<circle cx="265.8" cy="1537.8" r="4.9"/>
<circle cx="279.7" cy="1529.7" r="4.9"/>
<circle cx="259.5" cy="1560.4" r="4.9"/>
</g>
<g fill="#FF2600">
<circle cx="326.3" cy="1336.2" r="4.9"/>
<circle cx="340.1" cy="1336.2" r="4.9"/>
<circle cx="326.3" cy="1351.3" r="4.9"/>
<circle cx="335.6" cy="1360.1" r="4.9"/>
<circle cx="335.6" cy="1374.8" r="4.9"/>
<circle cx="315.4" cy="1395.9" r="4.9"/>
<circle cx="355.8" cy="1392.9" r="4.9"/>
<circle cx="335.6" cy="1401.7" r="4.9"/>
<circle cx="345.7" cy="1397.2" r="4.9"/>
<circle cx="326.3" cy="1411.8" r="4.9"/>
<circle cx="345.7" cy="1409.3" r="4.9"/>
<circle cx="315.4" cy="1421.4" r="4.9"/>
<circle cx="326.3" cy="1424.4" r="4.9"/>
<circle cx="355.8" cy="1424.4" r="4.9"/>
<circle cx="315.4" cy="1432.0" r="4.9"/>
<circle cx="326.3" cy="1439.5" r="4.9"/>
<circle cx="345.7" cy="1434.5" r="4.9"/>
<circle cx="355.8" cy="1434.5" r="4.9"/>
<circle cx="326.3" cy="1452.1" r="4.9"/>
<circle cx="335.6" cy="1450.8" r="4.9"/>
<circle cx="345.7" cy="1457.1" r="4.9"/>
<circle cx="315.4" cy="1464.2" r="4.9"/>
<circle cx="326.3" cy="1466.7" r="4.9"/>
<circle cx="335.6" cy="1472.3" r="4.9"/>
<circle cx="345.7" cy="1469.2" r="4.9"/>
<circle cx="355.8" cy="1462.2" r="4.9"/>
<circle cx="335.6" cy="1498.7" r="4.9"/>
<circle cx="335.6" cy="1534.0" r="4.9"/>
<circle cx="335.6" cy="1576.8" r="4.9"/>
</g>
<g fill="#FF2600">
<circle cx="415.7" cy="1345.8" r="4.9"/>
<circle cx="407.7" cy="1354.4" r="4.9"/>
<circle cx="415.7" cy="1356.4" r="4.9"/>
<circle cx="424.5" cy="1353.8" r="4.9"/>
<circle cx="415.7" cy="1367.7" r="4.9"/>
<circle cx="399.3" cy="1375.3" r="4.9"/>
<circle cx="424.5" cy="1376.0" r="4.9"/>
<circle cx="407.7" cy="1384.1" r="4.9"/>
<circle cx="415.7" cy="1383.6" r="4.9"/>
<circle cx="389.3" cy="1391.1" r="4.9"/>
<circle cx="398.1" cy="1391.6" r="4.9"/>
<circle cx="405.6" cy="1390.4" r="4.9"/>
<circle cx="417.0" cy="1391.6" r="4.9"/>
<circle cx="425.8" cy="1392.9" r="4.9"/>
<circle cx="432.9" cy="1393.7" r="4.9"/>
<circle cx="407.7" cy="1398.7" r="4.9"/>
<circle cx="417.0" cy="1403.0" r="4.9"/>
<circle cx="397.6" cy="1421.4" r="4.9"/>
<circle cx="405.6" cy="1423.1" r="4.9"/>
<circle cx="415.7" cy="1426.9" r="4.9"/>
<circle cx="427.1" cy="1425.7" r="4.9"/>
<circle cx="399.3" cy="1439.5" r="4.9"/>
<circle cx="407.7" cy="1437.5" r="4.9"/>
<circle cx="415.7" cy="1435.7" r="4.9"/>
<circle cx="411.9" cy="1452.1" r="4.9"/>
<circle cx="399.3" cy="1473.5" r="4.9"/>
<circle cx="407.7" cy="1472.3" r="4.9"/>
<circle cx="415.7" cy="1479.8" r="4.9"/>
<circle cx="407.7" cy="1483.6" r="4.9"/>
<circle cx="415.7" cy="1491.2" r="4.9"/>
<circle cx="407.7" cy="1507.5" r="4.9"/>
<circle cx="417.0" cy="1513.8" r="4.9"/>
<circle cx="411.9" cy="1526.4" r="4.9"/>
</g>
<line x1="158.9" y1="1414.3" x2="207.5" y2="1414.3" stroke="#000" stroke-width="4" />
<line x1="183.2" y1="1405.2" x2="183.2" y2="1423.4" stroke="#000" stroke-width="4" />
<line x1="169.9" y1="1405.2" x2="196.4" y2="1405.2" stroke="#000" stroke-width="4" />
<line x1="169.9" y1="1423.4" x2="196.4" y2="1423.4" stroke="#000" stroke-width="4" />
<line x1="235.2" y1="1464.7" x2="283.8" y2="1464.7" stroke="#000" stroke-width="4" />
<line x1="259.5" y1="1454.4" x2="259.5" y2="1475.0" stroke="#000" stroke-width="4" />
<line x1="246.2" y1="1454.4" x2="272.8" y2="1454.4" stroke="#000" stroke-width="4" />
<line x1="246.2" y1="1475.0" x2="272.8" y2="1475.0" stroke="#000" stroke-width="4" />
<line x1="311.3" y1="1430.7" x2="359.9" y2="1430.7" stroke="#000" stroke-width="4" />
<line x1="335.6" y1="1421.3" x2="335.6" y2="1440.1" stroke="#000" stroke-width="4" />
<line x1="322.4" y1="1421.3" x2="348.9" y2="1421.3" stroke="#000" stroke-width="4" />
<line x1="322.4" y1="1440.1" x2="348.9" y2="1440.1" stroke="#000" stroke-width="4" />
<line x1="387.7" y1="1421.9" x2="436.3" y2="1421.9" stroke="#000" stroke-width="4" />
<line x1="412.0" y1="1412.1" x2="412.0" y2="1431.7" stroke="#000" stroke-width="4" />
<line x1="398.8" y1="1412.1" x2="425.2" y2="1412.1" stroke="#000" stroke-width="4" />
<line x1="398.8" y1="1431.7" x2="425.2" y2="1431.7" stroke="#000" stroke-width="4" />
<line x1="132.3" y1="1258.2" x2="132.3" y2="1590.0" stroke="#000" stroke-width="3.6" />
<line x1="117.8" y1="1568.9" x2="134.1" y2="1568.9" stroke="#000" stroke-width="3.4" />
<text x="111.2" y="1576.6" font-size="26" text-anchor="end">0.6</text>
<line x1="117.8" y1="1491.6" x2="134.1" y2="1491.6" stroke="#000" stroke-width="3.4" />
<text x="111.2" y="1499.3" font-size="26" text-anchor="end">0.8</text>
<line x1="117.8" y1="1414.3" x2="134.1" y2="1414.3" stroke="#000" stroke-width="3.4" />
<text x="111.2" y="1422.0" font-size="26" text-anchor="end">1.0</text>
<line x1="117.8" y1="1337.0" x2="134.1" y2="1337.0" stroke="#000" stroke-width="3.4" />
<text x="111.2" y="1344.7" font-size="26" text-anchor="end">1.2</text>
<line x1="117.8" y1="1259.7" x2="134.1" y2="1259.7" stroke="#000" stroke-width="3.4" />
<text x="111.2" y="1267.4" font-size="26" text-anchor="end">1.4</text>
<line x1="125.3" y1="1530.2" x2="134.1" y2="1530.2" stroke="#000" stroke-width="3.4" />
<line x1="125.3" y1="1453.0" x2="134.1" y2="1453.0" stroke="#000" stroke-width="3.4" />
<line x1="125.3" y1="1375.6" x2="134.1" y2="1375.6" stroke="#000" stroke-width="3.4" />
<line x1="125.3" y1="1298.3" x2="134.1" y2="1298.3" stroke="#000" stroke-width="3.4" />
<line x1="130.5" y1="1588.2" x2="462.3" y2="1588.2" stroke="#000" stroke-width="3.6" />
<line x1="183.2" y1="1586.4" x2="183.2" y2="1602.2" stroke="#000" stroke-width="3.4" />
<line x1="259.5" y1="1586.4" x2="259.5" y2="1602.2" stroke="#000" stroke-width="3.4" />
<line x1="335.6" y1="1586.4" x2="335.6" y2="1602.2" stroke="#000" stroke-width="3.4" />
<line x1="412.0" y1="1586.4" x2="412.0" y2="1602.2" stroke="#000" stroke-width="3.4" />
<text transform="translate(19.8,1422.5) rotate(-90)" font-size="26.5" text-anchor="middle" font-weight="bold">ER calcium</text>
<text transform="translate(49.5,1421.9) rotate(-90)" font-size="26.5" text-anchor="middle">(ER-GCaMP6-201 F488/F405)</text>
<text transform="translate(194.7,1624.3) rotate(-45)" font-size="26" text-anchor="end">scr shRNA</text>
<text transform="translate(273.5,1624.1) rotate(-45)" font-size="26" text-anchor="end">Wfs1 shRNA</text>
<text transform="translate(351.1,1627.7) rotate(-45)" font-size="26" text-anchor="end">Rycal S107</text>
<text transform="translate(423.5,1623.9) rotate(-45)" font-size="26" text-anchor="end">Wfs1 shRNA</text>
<text transform="translate(459.1,1628.1) rotate(-45)" font-size="26" text-anchor="end">+ Rycal S107</text>
<text x="171.3" y="1239.2" font-size="18.4"><tspan font-style="italic">p</tspan> = 0.0010</text>
<text x="283.9" y="1246.0" font-size="18.4"><tspan font-style="italic">p</tspan> = 0.0066</text>
<line x1="182.7" y1="1245.5" x2="258.2" y2="1245.5" stroke="#000" stroke-width="2.3" />
<line x1="258.2" y1="1253.6" x2="411.2" y2="1253.6" stroke="#000" stroke-width="2.3" />
<text x="505.6" y="1217.0" font-size="59">g</text>
<line x1="631.8" y1="1473.4" x2="968.7" y2="1473.4" stroke="#5c5c5c" stroke-width="2" stroke-dasharray="2.1 3.5"/>
<g fill="#FF2600">
<circle cx="680.6" cy="1355.4" r="4.9"/>
<circle cx="680.5" cy="1383.9" r="4.9"/>
<circle cx="678.9" cy="1390.4" r="4.9"/>
<circle cx="681.6" cy="1392.2" r="4.9"/>
<circle cx="680.5" cy="1397.3" r="4.9"/>
<circle cx="680.7" cy="1403.8" r="4.9"/>
<circle cx="678.7" cy="1411.6" r="4.9"/>
<circle cx="682.0" cy="1411.0" r="4.9"/>
<circle cx="679.8" cy="1418.3" r="4.9"/>
<circle cx="681.8" cy="1417.9" r="4.9"/>
<circle cx="680.0" cy="1424.0" r="4.9"/>
<circle cx="678.9" cy="1430.6" r="4.9"/>
<circle cx="680.7" cy="1429.5" r="4.9"/>
<circle cx="677.8" cy="1436.8" r="4.9"/>
<circle cx="681.7" cy="1437.5" r="4.9"/>
<circle cx="674.3" cy="1441.7" r="4.9"/>
<circle cx="684.5" cy="1444.1" r="4.9"/>
<circle cx="668.3" cy="1448.5" r="4.9"/>
<circle cx="674.8" cy="1448.3" r="4.9"/>
<circle cx="684.0" cy="1449.8" r="4.9"/>
<circle cx="691.3" cy="1450.1" r="4.9"/>
<circle cx="668.5" cy="1456.2" r="4.9"/>
<circle cx="675.6" cy="1456.8" r="4.9"/>
<circle cx="683.6" cy="1457.0" r="4.9"/>
<circle cx="688.5" cy="1456.9" r="4.9"/>
<circle cx="663.0" cy="1463.6" r="4.9"/>
<circle cx="669.7" cy="1461.7" r="4.9"/>
<circle cx="677.9" cy="1461.2" r="4.9"/>
<circle cx="688.1" cy="1463.2" r="4.9"/>
<circle cx="695.6" cy="1463.3" r="4.9"/>
<circle cx="664.5" cy="1468.4" r="4.9"/>
<circle cx="671.1" cy="1467.9" r="4.9"/>
<circle cx="680.6" cy="1468.2" r="4.9"/>
<circle cx="687.2" cy="1468.7" r="4.9"/>
<circle cx="694.2" cy="1468.3" r="4.9"/>
<circle cx="661.8" cy="1476.0" r="4.9"/>
<circle cx="668.9" cy="1474.9" r="4.9"/>
<circle cx="677.6" cy="1475.4" r="4.9"/>
<circle cx="684.5" cy="1475.7" r="4.9"/>
<circle cx="689.5" cy="1475.2" r="4.9"/>
<circle cx="697.8" cy="1476.1" r="4.9"/>
<circle cx="673.4" cy="1482.4" r="4.9"/>
<circle cx="680.5" cy="1481.2" r="4.9"/>
<circle cx="688.1" cy="1480.8" r="4.9"/>
<circle cx="670.1" cy="1487.5" r="4.9"/>
<circle cx="675.2" cy="1487.6" r="4.9"/>
<circle cx="683.9" cy="1489.6" r="4.9"/>
<circle cx="689.4" cy="1488.4" r="4.9"/>
<circle cx="672.7" cy="1495.6" r="4.9"/>
<circle cx="678.6" cy="1494.9" r="4.9"/>
<circle cx="685.7" cy="1495.7" r="4.9"/>
<circle cx="669.9" cy="1502.5" r="4.9"/>
<circle cx="678.9" cy="1500.6" r="4.9"/>
<circle cx="688.9" cy="1501.4" r="4.9"/>
<circle cx="671.7" cy="1508.2" r="4.9"/>
<circle cx="679.0" cy="1508.6" r="4.9"/>
<circle cx="688.4" cy="1508.6" r="4.9"/>
<circle cx="669.6" cy="1514.0" r="4.9"/>
<circle cx="675.8" cy="1514.1" r="4.9"/>
<circle cx="683.7" cy="1513.3" r="4.9"/>
<circle cx="689.8" cy="1513.1" r="4.9"/>
<circle cx="675.5" cy="1520.2" r="4.9"/>
<circle cx="683.7" cy="1520.8" r="4.9"/>
<circle cx="676.1" cy="1528.3" r="4.9"/>
<circle cx="683.0" cy="1527.2" r="4.9"/>
<circle cx="677.9" cy="1534.5" r="4.9"/>
<circle cx="682.7" cy="1534.2" r="4.9"/>
<circle cx="678.8" cy="1539.8" r="4.9"/>
<circle cx="681.4" cy="1541.2" r="4.9"/>
<circle cx="680.2" cy="1557.2" r="4.9"/>
</g>
<g fill="#FF2600">
<circle cx="755.7" cy="1264.8" r="4.9"/>
<circle cx="756.6" cy="1312.7" r="4.9"/>
<circle cx="755.6" cy="1326.1" r="4.9"/>
<circle cx="753.4" cy="1340.1" r="4.9"/>
<circle cx="759.3" cy="1340.3" r="4.9"/>
<circle cx="756.5" cy="1354.9" r="4.9"/>
<circle cx="754.8" cy="1359.9" r="4.9"/>
<circle cx="757.0" cy="1360.3" r="4.9"/>
<circle cx="753.9" cy="1366.3" r="4.9"/>
<circle cx="758.5" cy="1366.3" r="4.9"/>
<circle cx="752.9" cy="1374.1" r="4.9"/>
<circle cx="759.8" cy="1374.7" r="4.9"/>
<circle cx="752.0" cy="1379.6" r="4.9"/>
<circle cx="760.2" cy="1380.6" r="4.9"/>
<circle cx="751.8" cy="1386.1" r="4.9"/>
<circle cx="759.7" cy="1386.6" r="4.9"/>
<circle cx="747.5" cy="1391.8" r="4.9"/>
<circle cx="755.5" cy="1391.4" r="4.9"/>
<circle cx="763.5" cy="1393.4" r="4.9"/>
<circle cx="752.9" cy="1399.0" r="4.9"/>
<circle cx="759.4" cy="1398.9" r="4.9"/>
<circle cx="746.4" cy="1405.6" r="4.9"/>
<circle cx="755.8" cy="1406.0" r="4.9"/>
<circle cx="765.8" cy="1405.2" r="4.9"/>
<circle cx="747.7" cy="1412.4" r="4.9"/>
<circle cx="755.9" cy="1411.0" r="4.9"/>
<circle cx="765.3" cy="1412.7" r="4.9"/>
<circle cx="742.1" cy="1418.6" r="4.9"/>
<circle cx="749.7" cy="1418.5" r="4.9"/>
<circle cx="756.3" cy="1417.9" r="4.9"/>
<circle cx="762.6" cy="1418.4" r="4.9"/>
<circle cx="769.6" cy="1417.9" r="4.9"/>
<circle cx="746.7" cy="1425.0" r="4.9"/>
<circle cx="753.3" cy="1423.8" r="4.9"/>
<circle cx="759.4" cy="1424.3" r="4.9"/>
<circle cx="766.5" cy="1424.2" r="4.9"/>
<circle cx="742.8" cy="1431.9" r="4.9"/>
<circle cx="748.6" cy="1431.2" r="4.9"/>
<circle cx="757.0" cy="1430.5" r="4.9"/>
<circle cx="763.2" cy="1432.0" r="4.9"/>
<circle cx="769.5" cy="1430.9" r="4.9"/>
<circle cx="743.5" cy="1437.9" r="4.9"/>
<circle cx="753.3" cy="1437.2" r="4.9"/>
<circle cx="759.4" cy="1437.4" r="4.9"/>
<circle cx="768.7" cy="1437.7" r="4.9"/>
<circle cx="736.7" cy="1443.9" r="4.9"/>
<circle cx="745.2" cy="1443.6" r="4.9"/>
<circle cx="751.9" cy="1444.7" r="4.9"/>
<circle cx="759.0" cy="1444.0" r="4.9"/>
<circle cx="767.2" cy="1444.2" r="4.9"/>
<circle cx="774.7" cy="1444.8" r="4.9"/>
<circle cx="746.5" cy="1448.7" r="4.9"/>
<circle cx="753.7" cy="1449.6" r="4.9"/>
<circle cx="760.6" cy="1449.7" r="4.9"/>
<circle cx="750.5" cy="1456.8" r="4.9"/>
<circle cx="759.3" cy="1455.7" r="4.9"/>
<circle cx="752.6" cy="1463.3" r="4.9"/>
<circle cx="759.3" cy="1462.7" r="4.9"/>
<circle cx="752.6" cy="1469.8" r="4.9"/>
<circle cx="758.6" cy="1468.3" r="4.9"/>
<circle cx="752.4" cy="1476.1" r="4.9"/>
<circle cx="759.1" cy="1475.7" r="4.9"/>
<circle cx="753.9" cy="1481.9" r="4.9"/>
<circle cx="758.2" cy="1482.9" r="4.9"/>
<circle cx="757.4" cy="1488.3" r="4.9"/>
<circle cx="756.1" cy="1494.9" r="4.9"/>
<circle cx="755.3" cy="1500.6" r="4.9"/>
<circle cx="756.3" cy="1506.7" r="4.9"/>
</g>
<g fill="#FF2600">
<circle cx="833.0" cy="1384.4" r="4.9"/>
<circle cx="833.0" cy="1403.7" r="4.9"/>
<circle cx="832.2" cy="1410.2" r="4.9"/>
<circle cx="831.3" cy="1416.2" r="4.9"/>
<circle cx="832.7" cy="1417.6" r="4.9"/>
<circle cx="831.2" cy="1423.2" r="4.9"/>
<circle cx="830.6" cy="1430.0" r="4.9"/>
<circle cx="829.9" cy="1436.8" r="4.9"/>
<circle cx="832.0" cy="1436.1" r="4.9"/>
<circle cx="828.1" cy="1443.9" r="4.9"/>
<circle cx="833.4" cy="1443.8" r="4.9"/>
<circle cx="827.0" cy="1450.2" r="4.9"/>
<circle cx="831.5" cy="1450.3" r="4.9"/>
<circle cx="824.3" cy="1454.7" r="4.9"/>
<circle cx="829.2" cy="1457.1" r="4.9"/>
<circle cx="837.2" cy="1455.3" r="4.9"/>
<circle cx="842.7" cy="1455.0" r="4.9"/>
<circle cx="817.7" cy="1463.2" r="4.9"/>
<circle cx="825.0" cy="1461.5" r="4.9"/>
<circle cx="833.9" cy="1463.2" r="4.9"/>
<circle cx="839.3" cy="1463.5" r="4.9"/>
<circle cx="847.9" cy="1463.2" r="4.9"/>
<circle cx="813.0" cy="1469.9" r="4.9"/>
<circle cx="821.4" cy="1469.8" r="4.9"/>
<circle cx="827.7" cy="1469.4" r="4.9"/>
<circle cx="836.4" cy="1469.6" r="4.9"/>
<circle cx="844.1" cy="1469.9" r="4.9"/>
<circle cx="852.2" cy="1468.3" r="4.9"/>
<circle cx="821.8" cy="1474.5" r="4.9"/>
<circle cx="829.5" cy="1474.3" r="4.9"/>
<circle cx="836.8" cy="1474.5" r="4.9"/>
<circle cx="844.2" cy="1475.4" r="4.9"/>
<circle cx="822.2" cy="1482.8" r="4.9"/>
<circle cx="828.3" cy="1482.8" r="4.9"/>
<circle cx="836.9" cy="1482.1" r="4.9"/>
<circle cx="844.7" cy="1482.8" r="4.9"/>
<circle cx="826.9" cy="1488.2" r="4.9"/>
<circle cx="835.1" cy="1487.3" r="4.9"/>
<circle cx="841.0" cy="1488.7" r="4.9"/>
<circle cx="821.3" cy="1495.2" r="4.9"/>
<circle cx="829.7" cy="1496.0" r="4.9"/>
<circle cx="836.2" cy="1496.1" r="4.9"/>
<circle cx="843.9" cy="1494.8" r="4.9"/>
<circle cx="825.5" cy="1500.2" r="4.9"/>
<circle cx="832.2" cy="1501.7" r="4.9"/>
<circle cx="837.8" cy="1502.3" r="4.9"/>
<circle cx="821.0" cy="1507.8" r="4.9"/>
<circle cx="828.3" cy="1508.6" r="4.9"/>
<circle cx="834.4" cy="1507.7" r="4.9"/>
<circle cx="842.1" cy="1508.0" r="4.9"/>
<circle cx="822.3" cy="1513.8" r="4.9"/>
<circle cx="829.7" cy="1514.1" r="4.9"/>
<circle cx="835.8" cy="1513.7" r="4.9"/>
<circle cx="842.8" cy="1515.6" r="4.9"/>
<circle cx="823.9" cy="1521.6" r="4.9"/>
<circle cx="832.0" cy="1520.4" r="4.9"/>
<circle cx="840.8" cy="1521.1" r="4.9"/>
<circle cx="829.1" cy="1528.1" r="4.9"/>
<circle cx="835.7" cy="1527.9" r="4.9"/>
<circle cx="830.4" cy="1533.9" r="4.9"/>
<circle cx="834.7" cy="1533.3" r="4.9"/>
<circle cx="829.3" cy="1539.5" r="4.9"/>
<circle cx="835.9" cy="1540.6" r="4.9"/>
<circle cx="830.7" cy="1547.5" r="4.9"/>
<circle cx="835.3" cy="1547.1" r="4.9"/>
<circle cx="831.9" cy="1553.6" r="4.9"/>
<circle cx="833.5" cy="1553.5" r="4.9"/>
<circle cx="832.7" cy="1559.4" r="4.9"/>
<circle cx="832.7" cy="1566.2" r="4.9"/>
<circle cx="832.8" cy="1572.2" r="4.9"/>
<circle cx="831.9" cy="1578.6" r="4.9"/>
</g>
<g fill="#FF2600">
<circle cx="908.8" cy="1291.7" r="4.9"/>
<circle cx="908.6" cy="1330.9" r="4.9"/>
<circle cx="908.8" cy="1341.2" r="4.9"/>
<circle cx="908.4" cy="1367.7" r="4.9"/>
<circle cx="908.0" cy="1374.3" r="4.9"/>
<circle cx="908.1" cy="1380.6" r="4.9"/>
<circle cx="902.1" cy="1409.1" r="4.9"/>
<circle cx="907.1" cy="1408.1" r="4.9"/>
<circle cx="913.9" cy="1406.9" r="4.9"/>
<circle cx="905.9" cy="1414.5" r="4.9"/>
<circle cx="913.1" cy="1414.1" r="4.9"/>
<circle cx="906.4" cy="1420.3" r="4.9"/>
<circle cx="911.4" cy="1421.7" r="4.9"/>
<circle cx="906.6" cy="1426.8" r="4.9"/>
<circle cx="911.7" cy="1425.9" r="4.9"/>
<circle cx="899.7" cy="1432.5" r="4.9"/>
<circle cx="907.7" cy="1432.0" r="4.9"/>
<circle cx="917.0" cy="1433.7" r="4.9"/>
<circle cx="904.1" cy="1440.8" r="4.9"/>
<circle cx="910.4" cy="1440.5" r="4.9"/>
<circle cx="898.6" cy="1444.6" r="4.9"/>
<circle cx="908.7" cy="1445.2" r="4.9"/>
<circle cx="917.5" cy="1445.1" r="4.9"/>
<circle cx="896.2" cy="1452.9" r="4.9"/>
<circle cx="905.4" cy="1453.1" r="4.9"/>
<circle cx="913.6" cy="1451.1" r="4.9"/>
<circle cx="921.4" cy="1452.8" r="4.9"/>
<circle cx="890.2" cy="1459.7" r="4.9"/>
<circle cx="897.1" cy="1459.7" r="4.9"/>
<circle cx="905.8" cy="1457.3" r="4.9"/>
<circle cx="911.5" cy="1458.9" r="4.9"/>
<circle cx="921.0" cy="1457.4" r="4.9"/>
<circle cx="927.4" cy="1459.1" r="4.9"/>
<circle cx="894.0" cy="1465.8" r="4.9"/>
<circle cx="901.6" cy="1463.7" r="4.9"/>
<circle cx="908.4" cy="1465.1" r="4.9"/>
<circle cx="915.7" cy="1465.3" r="4.9"/>
<circle cx="922.1" cy="1465.6" r="4.9"/>
<circle cx="892.3" cy="1471.6" r="4.9"/>
<circle cx="900.9" cy="1471.0" r="4.9"/>
<circle cx="908.4" cy="1471.9" r="4.9"/>
<circle cx="918.0" cy="1471.9" r="4.9"/>
<circle cx="925.1" cy="1470.7" r="4.9"/>
<circle cx="897.1" cy="1478.8" r="4.9"/>
<circle cx="905.6" cy="1478.4" r="4.9"/>
<circle cx="912.0" cy="1477.8" r="4.9"/>
<circle cx="921.0" cy="1478.4" r="4.9"/>
<circle cx="896.7" cy="1483.3" r="4.9"/>
<circle cx="904.5" cy="1484.9" r="4.9"/>
<circle cx="912.5" cy="1484.3" r="4.9"/>
<circle cx="921.0" cy="1484.9" r="4.9"/>
<circle cx="905.4" cy="1489.6" r="4.9"/>
<circle cx="911.1" cy="1489.6" r="4.9"/>
<circle cx="903.4" cy="1496.7" r="4.9"/>
<circle cx="914.3" cy="1497.5" r="4.9"/>
<circle cx="905.1" cy="1503.7" r="4.9"/>
<circle cx="912.6" cy="1503.8" r="4.9"/>
<circle cx="901.1" cy="1508.6" r="4.9"/>
<circle cx="909.6" cy="1509.9" r="4.9"/>
<circle cx="916.7" cy="1510.2" r="4.9"/>
<circle cx="908.0" cy="1524.2" r="4.9"/>
<circle cx="906.9" cy="1533.3" r="4.9"/>
<circle cx="910.3" cy="1533.2" r="4.9"/>
<circle cx="909.0" cy="1545.8" r="4.9"/>
</g>
<line x1="654.5" y1="1473.0" x2="704.5" y2="1473.0" stroke="#000" stroke-width="4" />
<line x1="679.5" y1="1469.1" x2="679.5" y2="1476.9" stroke="#000" stroke-width="4" />
<line x1="665.5" y1="1469.1" x2="693.5" y2="1469.1" stroke="#000" stroke-width="4" />
<line x1="665.5" y1="1476.9" x2="693.5" y2="1476.9" stroke="#000" stroke-width="4" />
<line x1="730.8" y1="1418.1" x2="780.8" y2="1418.1" stroke="#000" stroke-width="4" />
<line x1="755.8" y1="1413.7" x2="755.8" y2="1422.5" stroke="#000" stroke-width="4" />
<line x1="741.8" y1="1413.7" x2="769.8" y2="1413.7" stroke="#000" stroke-width="4" />
<line x1="741.8" y1="1422.5" x2="769.8" y2="1422.5" stroke="#000" stroke-width="4" />
<line x1="806.9" y1="1484.8" x2="856.9" y2="1484.8" stroke="#000" stroke-width="4" />
<line x1="831.9" y1="1480.7" x2="831.9" y2="1488.9" stroke="#000" stroke-width="4" />
<line x1="817.9" y1="1480.7" x2="845.9" y2="1480.7" stroke="#000" stroke-width="4" />
<line x1="817.9" y1="1488.9" x2="845.9" y2="1488.9" stroke="#000" stroke-width="4" />
<line x1="883.2" y1="1460.9" x2="933.2" y2="1460.9" stroke="#000" stroke-width="4" />
<line x1="908.2" y1="1456.8" x2="908.2" y2="1465.0" stroke="#000" stroke-width="4" />
<line x1="894.2" y1="1456.8" x2="922.2" y2="1456.8" stroke="#000" stroke-width="4" />
<line x1="894.2" y1="1465.0" x2="922.2" y2="1465.0" stroke="#000" stroke-width="4" />
<line x1="629.8" y1="1258.7" x2="629.8" y2="1591.2" stroke="#000" stroke-width="3.6" />
<line x1="615.3" y1="1550.4" x2="631.6" y2="1550.4" stroke="#000" stroke-width="3.4" />
<text x="609.5" y="1560.7" font-size="26" text-anchor="end">0.8</text>
<line x1="615.3" y1="1473.0" x2="631.6" y2="1473.0" stroke="#000" stroke-width="3.4" />
<text x="609.5" y="1483.3" font-size="26" text-anchor="end">1.0</text>
<line x1="615.3" y1="1395.6" x2="631.6" y2="1395.6" stroke="#000" stroke-width="3.4" />
<text x="609.5" y="1405.9" font-size="26" text-anchor="end">1.2</text>
<line x1="615.3" y1="1318.2" x2="631.6" y2="1318.2" stroke="#000" stroke-width="3.4" />
<text x="609.5" y="1328.5" font-size="26" text-anchor="end">1.4</text>
<line x1="622.8" y1="1511.7" x2="631.6" y2="1511.7" stroke="#000" stroke-width="3.4" />
<line x1="622.8" y1="1434.3" x2="631.6" y2="1434.3" stroke="#000" stroke-width="3.4" />
<line x1="622.8" y1="1356.9" x2="631.6" y2="1356.9" stroke="#000" stroke-width="3.4" />
<line x1="622.8" y1="1279.5" x2="631.6" y2="1279.5" stroke="#000" stroke-width="3.4" />
<line x1="622.3" y1="1589.4" x2="958.6" y2="1589.4" stroke="#000" stroke-width="3.6" />
<line x1="679.5" y1="1587.6" x2="679.5" y2="1603.4" stroke="#000" stroke-width="3.4" />
<line x1="755.8" y1="1587.6" x2="755.8" y2="1603.4" stroke="#000" stroke-width="3.4" />
<line x1="831.9" y1="1587.6" x2="831.9" y2="1603.4" stroke="#000" stroke-width="3.4" />
<line x1="908.2" y1="1587.6" x2="908.2" y2="1603.4" stroke="#000" stroke-width="3.4" />
<text transform="translate(524.0,1425.0) rotate(-90)" font-size="26.5" text-anchor="middle" font-weight="bold">Axoplasmic calcium</text>
<text transform="translate(551.5,1425.0) rotate(-90)" font-size="26.5" text-anchor="middle">(jGCaMP7b F488/F405)</text>
<text transform="translate(692.5,1623.8) rotate(-45)" font-size="26" text-anchor="end">scr shRNA</text>
<text transform="translate(770.8,1624.0) rotate(-45)" font-size="26" text-anchor="end">Wfs1 shRNA</text>
<text transform="translate(847.9,1627.4) rotate(-45)" font-size="26" text-anchor="end">Rycal S107</text>
<text transform="translate(921.7,1624.3) rotate(-45)" font-size="26" text-anchor="end">Wfs1 shRNA</text>
<text transform="translate(955.3,1627.6) rotate(-45)" font-size="26" text-anchor="end">+ Rycal S107</text>
<text x="669.4" y="1239.2" font-size="18.4"><tspan font-style="italic">p</tspan> &lt; 0.0001</text>
<text x="789.8" y="1246.0" font-size="18.4"><tspan font-style="italic">p</tspan> &lt; 0.0001</text>
<line x1="680.2" y1="1245.5" x2="755.8" y2="1245.5" stroke="#000" stroke-width="2.3" />
<line x1="755.8" y1="1253.6" x2="908.7" y2="1253.6" stroke="#000" stroke-width="2.3" />
<text x="1011.6" y="1217.0" font-size="59">h</text>
<line x1="1158.7" y1="1424.8" x2="1481.0" y2="1424.8" stroke="#5c5c5c" stroke-width="2" stroke-dasharray="2.1 3.5"/>
<g fill="#FF2600">
<circle cx="1206.4" cy="1305.5" r="4.9"/>
<circle cx="1206.2" cy="1328.2" r="4.9"/>
<circle cx="1205.9" cy="1350.9" r="4.9"/>
<circle cx="1207.2" cy="1357.1" r="4.9"/>
<circle cx="1207.3" cy="1364.2" r="4.9"/>
<circle cx="1206.0" cy="1370.1" r="4.9"/>
<circle cx="1204.6" cy="1377.5" r="4.9"/>
<circle cx="1195.9" cy="1383.7" r="4.9"/>
<circle cx="1202.4" cy="1383.9" r="4.9"/>
<circle cx="1208.7" cy="1382.8" r="4.9"/>
<circle cx="1215.8" cy="1384.2" r="4.9"/>
<circle cx="1195.9" cy="1390.4" r="4.9"/>
<circle cx="1203.2" cy="1390.3" r="4.9"/>
<circle cx="1209.9" cy="1389.1" r="4.9"/>
<circle cx="1218.8" cy="1389.9" r="4.9"/>
<circle cx="1201.3" cy="1397.2" r="4.9"/>
<circle cx="1210.7" cy="1396.0" r="4.9"/>
<circle cx="1194.9" cy="1403.1" r="4.9"/>
<circle cx="1202.2" cy="1402.2" r="4.9"/>
<circle cx="1208.3" cy="1404.8" r="4.9"/>
<circle cx="1217.3" cy="1403.4" r="4.9"/>
<circle cx="1194.5" cy="1409.5" r="4.9"/>
<circle cx="1202.9" cy="1409.9" r="4.9"/>
<circle cx="1211.1" cy="1410.8" r="4.9"/>
<circle cx="1218.5" cy="1411.3" r="4.9"/>
<circle cx="1187.0" cy="1415.5" r="4.9"/>
<circle cx="1194.1" cy="1415.9" r="4.9"/>
<circle cx="1201.4" cy="1415.5" r="4.9"/>
<circle cx="1210.2" cy="1417.7" r="4.9"/>
<circle cx="1217.5" cy="1417.9" r="4.9"/>
<circle cx="1225.8" cy="1415.6" r="4.9"/>
<circle cx="1190.5" cy="1423.1" r="4.9"/>
<circle cx="1197.3" cy="1424.5" r="4.9"/>
<circle cx="1205.6" cy="1423.5" r="4.9"/>
<circle cx="1214.6" cy="1424.5" r="4.9"/>
<circle cx="1222.6" cy="1423.0" r="4.9"/>
<circle cx="1189.2" cy="1429.0" r="4.9"/>
<circle cx="1197.5" cy="1431.2" r="4.9"/>
<circle cx="1202.7" cy="1428.7" r="4.9"/>
<circle cx="1209.8" cy="1429.5" r="4.9"/>
<circle cx="1218.5" cy="1431.0" r="4.9"/>
<circle cx="1225.0" cy="1428.8" r="4.9"/>
<circle cx="1198.5" cy="1437.1" r="4.9"/>
<circle cx="1207.2" cy="1437.8" r="4.9"/>
<circle cx="1214.3" cy="1435.6" r="4.9"/>
<circle cx="1196.0" cy="1444.3" r="4.9"/>
<circle cx="1203.2" cy="1442.6" r="4.9"/>
<circle cx="1209.9" cy="1443.8" r="4.9"/>
<circle cx="1216.2" cy="1442.7" r="4.9"/>
<circle cx="1201.9" cy="1448.8" r="4.9"/>
<circle cx="1211.1" cy="1448.9" r="4.9"/>
<circle cx="1196.6" cy="1455.5" r="4.9"/>
<circle cx="1206.7" cy="1455.1" r="4.9"/>
<circle cx="1215.9" cy="1455.6" r="4.9"/>
<circle cx="1201.0" cy="1464.1" r="4.9"/>
<circle cx="1210.2" cy="1464.1" r="4.9"/>
<circle cx="1199.8" cy="1470.6" r="4.9"/>
<circle cx="1205.2" cy="1469.5" r="4.9"/>
<circle cx="1212.4" cy="1470.7" r="4.9"/>
<circle cx="1203.8" cy="1476.6" r="4.9"/>
<circle cx="1208.5" cy="1475.8" r="4.9"/>
<circle cx="1203.8" cy="1482.8" r="4.9"/>
<circle cx="1209.8" cy="1481.9" r="4.9"/>
<circle cx="1203.4" cy="1488.3" r="4.9"/>
<circle cx="1211.2" cy="1489.6" r="4.9"/>
<circle cx="1203.1" cy="1497.0" r="4.9"/>
<circle cx="1210.9" cy="1495.8" r="4.9"/>
<circle cx="1200.2" cy="1502.1" r="4.9"/>
<circle cx="1208.7" cy="1502.3" r="4.9"/>
</g>
<g fill="#FF2600">
<circle cx="1281.8" cy="1393.6" r="4.9"/>
<circle cx="1281.0" cy="1399.7" r="4.9"/>
<circle cx="1282.4" cy="1399.9" r="4.9"/>
<circle cx="1279.8" cy="1404.7" r="4.9"/>
<circle cx="1283.6" cy="1403.0" r="4.9"/>
<circle cx="1277.6" cy="1420.6" r="4.9"/>
<circle cx="1284.9" cy="1420.4" r="4.9"/>
<circle cx="1278.8" cy="1428.9" r="4.9"/>
<circle cx="1286.2" cy="1428.7" r="4.9"/>
<circle cx="1274.2" cy="1433.5" r="4.9"/>
<circle cx="1283.3" cy="1432.9" r="4.9"/>
<circle cx="1290.1" cy="1433.5" r="4.9"/>
<circle cx="1278.6" cy="1439.3" r="4.9"/>
<circle cx="1286.7" cy="1440.1" r="4.9"/>
<circle cx="1270.2" cy="1445.7" r="4.9"/>
<circle cx="1279.2" cy="1447.1" r="4.9"/>
<circle cx="1285.1" cy="1446.8" r="4.9"/>
<circle cx="1294.2" cy="1446.3" r="4.9"/>
<circle cx="1271.5" cy="1452.5" r="4.9"/>
<circle cx="1277.8" cy="1454.2" r="4.9"/>
<circle cx="1286.5" cy="1452.7" r="4.9"/>
<circle cx="1292.1" cy="1452.4" r="4.9"/>
<circle cx="1269.2" cy="1459.9" r="4.9"/>
<circle cx="1277.1" cy="1459.2" r="4.9"/>
<circle cx="1286.5" cy="1460.5" r="4.9"/>
<circle cx="1295.3" cy="1460.2" r="4.9"/>
<circle cx="1269.9" cy="1465.3" r="4.9"/>
<circle cx="1278.6" cy="1466.2" r="4.9"/>
<circle cx="1286.3" cy="1465.3" r="4.9"/>
<circle cx="1294.3" cy="1466.0" r="4.9"/>
<circle cx="1263.9" cy="1473.8" r="4.9"/>
<circle cx="1270.8" cy="1471.6" r="4.9"/>
<circle cx="1279.3" cy="1472.8" r="4.9"/>
<circle cx="1286.7" cy="1472.3" r="4.9"/>
<circle cx="1292.3" cy="1473.7" r="4.9"/>
<circle cx="1300.4" cy="1472.0" r="4.9"/>
<circle cx="1266.0" cy="1479.6" r="4.9"/>
<circle cx="1273.0" cy="1479.4" r="4.9"/>
<circle cx="1282.2" cy="1479.4" r="4.9"/>
<circle cx="1289.4" cy="1479.9" r="4.9"/>
<circle cx="1299.3" cy="1480.3" r="4.9"/>
<circle cx="1262.6" cy="1486.4" r="4.9"/>
<circle cx="1270.3" cy="1486.5" r="4.9"/>
<circle cx="1277.3" cy="1486.8" r="4.9"/>
<circle cx="1287.4" cy="1485.8" r="4.9"/>
<circle cx="1294.1" cy="1485.9" r="4.9"/>
<circle cx="1301.9" cy="1484.6" r="4.9"/>
<circle cx="1268.8" cy="1491.6" r="4.9"/>
<circle cx="1274.5" cy="1491.3" r="4.9"/>
<circle cx="1281.7" cy="1493.1" r="4.9"/>
<circle cx="1288.2" cy="1491.2" r="4.9"/>
<circle cx="1297.0" cy="1491.5" r="4.9"/>
<circle cx="1270.3" cy="1499.0" r="4.9"/>
<circle cx="1278.7" cy="1498.8" r="4.9"/>
<circle cx="1286.7" cy="1497.7" r="4.9"/>
<circle cx="1294.2" cy="1499.3" r="4.9"/>
<circle cx="1278.3" cy="1504.2" r="4.9"/>
<circle cx="1286.0" cy="1505.2" r="4.9"/>
<circle cx="1273.1" cy="1510.7" r="4.9"/>
<circle cx="1279.4" cy="1510.7" r="4.9"/>
<circle cx="1286.1" cy="1512.6" r="4.9"/>
<circle cx="1291.7" cy="1511.9" r="4.9"/>
<circle cx="1280.9" cy="1517.3" r="4.9"/>
<circle cx="1287.9" cy="1519.3" r="4.9"/>
<circle cx="1279.8" cy="1524.4" r="4.9"/>
<circle cx="1285.5" cy="1524.7" r="4.9"/>
<circle cx="1281.7" cy="1531.7" r="4.9"/>
<circle cx="1282.8" cy="1577.6" r="4.9"/>
</g>
<g fill="#FF2600">
<circle cx="1358.2" cy="1340.3" r="4.9"/>
<circle cx="1358.5" cy="1358.5" r="4.9"/>
<circle cx="1355.6" cy="1365.4" r="4.9"/>
<circle cx="1361.6" cy="1365.2" r="4.9"/>
<circle cx="1350.1" cy="1370.8" r="4.9"/>
<circle cx="1359.8" cy="1371.9" r="4.9"/>
<circle cx="1366.2" cy="1370.5" r="4.9"/>
<circle cx="1354.5" cy="1376.8" r="4.9"/>
<circle cx="1360.4" cy="1376.0" r="4.9"/>
<circle cx="1348.9" cy="1383.6" r="4.9"/>
<circle cx="1353.7" cy="1382.6" r="4.9"/>
<circle cx="1361.5" cy="1384.3" r="4.9"/>
<circle cx="1360.9" cy="1390.3" r="4.9"/>
<circle cx="1367.7" cy="1391.0" r="4.9"/>
<circle cx="1356.0" cy="1395.2" r="4.9"/>
<circle cx="1361.8" cy="1395.8" r="4.9"/>
<circle cx="1367.7" cy="1395.8" r="4.9"/>
<circle cx="1358.3" cy="1403.9" r="4.9"/>
<circle cx="1365.6" cy="1402.2" r="4.9"/>
<circle cx="1346.8" cy="1409.0" r="4.9"/>
<circle cx="1355.1" cy="1408.7" r="4.9"/>
<circle cx="1360.6" cy="1409.6" r="4.9"/>
<circle cx="1367.7" cy="1409.5" r="4.9"/>
<circle cx="1352.4" cy="1415.7" r="4.9"/>
<circle cx="1357.7" cy="1415.5" r="4.9"/>
<circle cx="1364.9" cy="1414.7" r="4.9"/>
<circle cx="1348.7" cy="1421.1" r="4.9"/>
<circle cx="1357.6" cy="1421.8" r="4.9"/>
<circle cx="1366.9" cy="1421.4" r="4.9"/>
<circle cx="1347.6" cy="1428.6" r="4.9"/>
<circle cx="1355.6" cy="1428.7" r="4.9"/>
<circle cx="1361.5" cy="1428.9" r="4.9"/>
<circle cx="1367.2" cy="1429.0" r="4.9"/>
<circle cx="1339.2" cy="1435.0" r="4.9"/>
<circle cx="1347.4" cy="1434.8" r="4.9"/>
<circle cx="1354.4" cy="1434.2" r="4.9"/>
<circle cx="1361.9" cy="1434.9" r="4.9"/>
<circle cx="1370.1" cy="1435.1" r="4.9"/>
<circle cx="1377.6" cy="1434.5" r="4.9"/>
<circle cx="1347.9" cy="1440.6" r="4.9"/>
<circle cx="1355.9" cy="1441.3" r="4.9"/>
<circle cx="1363.5" cy="1442.6" r="4.9"/>
<circle cx="1371.9" cy="1442.0" r="4.9"/>
<circle cx="1344.5" cy="1446.6" r="4.9"/>
<circle cx="1352.8" cy="1447.5" r="4.9"/>
<circle cx="1357.6" cy="1447.4" r="4.9"/>
<circle cx="1365.5" cy="1448.3" r="4.9"/>
<circle cx="1372.1" cy="1447.0" r="4.9"/>
<circle cx="1350.7" cy="1454.7" r="4.9"/>
<circle cx="1357.7" cy="1453.7" r="4.9"/>
<circle cx="1366.6" cy="1454.6" r="4.9"/>
<circle cx="1347.0" cy="1461.4" r="4.9"/>
<circle cx="1355.5" cy="1460.6" r="4.9"/>
<circle cx="1363.1" cy="1461.2" r="4.9"/>
<circle cx="1370.6" cy="1460.5" r="4.9"/>
<circle cx="1352.5" cy="1467.5" r="4.9"/>
<circle cx="1359.6" cy="1466.0" r="4.9"/>
<circle cx="1365.9" cy="1465.7" r="4.9"/>
<circle cx="1351.0" cy="1473.6" r="4.9"/>
<circle cx="1358.3" cy="1474.6" r="4.9"/>
<circle cx="1366.1" cy="1473.2" r="4.9"/>
<circle cx="1354.5" cy="1480.7" r="4.9"/>
<circle cx="1361.3" cy="1479.5" r="4.9"/>
<circle cx="1351.6" cy="1486.1" r="4.9"/>
<circle cx="1358.3" cy="1485.7" r="4.9"/>
<circle cx="1363.6" cy="1486.3" r="4.9"/>
<circle cx="1354.2" cy="1492.1" r="4.9"/>
<circle cx="1362.3" cy="1493.5" r="4.9"/>
<circle cx="1358.1" cy="1499.0" r="4.9"/>
<circle cx="1356.2" cy="1504.9" r="4.9"/>
<circle cx="1361.2" cy="1505.6" r="4.9"/>
<circle cx="1355.8" cy="1510.8" r="4.9"/>
<circle cx="1364.3" cy="1511.4" r="4.9"/>
<circle cx="1355.3" cy="1519.1" r="4.9"/>
<circle cx="1364.2" cy="1517.5" r="4.9"/>
<circle cx="1353.3" cy="1525.8" r="4.9"/>
<circle cx="1359.4" cy="1523.5" r="4.9"/>
<circle cx="1358.7" cy="1543.9" r="4.9"/>
</g>
<g fill="#FF2600">
<circle cx="1435.6" cy="1348.2" r="4.9"/>
<circle cx="1435.0" cy="1366.8" r="4.9"/>
<circle cx="1433.1" cy="1379.9" r="4.9"/>
<circle cx="1436.4" cy="1379.6" r="4.9"/>
<circle cx="1431.1" cy="1388.4" r="4.9"/>
<circle cx="1438.7" cy="1389.3" r="4.9"/>
<circle cx="1433.9" cy="1402.9" r="4.9"/>
<circle cx="1436.2" cy="1402.5" r="4.9"/>
<circle cx="1434.5" cy="1418.5" r="4.9"/>
<circle cx="1418.9" cy="1425.8" r="4.9"/>
<circle cx="1427.9" cy="1424.8" r="4.9"/>
<circle cx="1434.5" cy="1425.1" r="4.9"/>
<circle cx="1443.9" cy="1424.4" r="4.9"/>
<circle cx="1450.6" cy="1425.6" r="4.9"/>
<circle cx="1416.2" cy="1430.7" r="4.9"/>
<circle cx="1425.0" cy="1432.1" r="4.9"/>
<circle cx="1430.9" cy="1430.2" r="4.9"/>
<circle cx="1439.0" cy="1431.7" r="4.9"/>
<circle cx="1445.9" cy="1432.5" r="4.9"/>
<circle cx="1452.7" cy="1431.0" r="4.9"/>
<circle cx="1422.6" cy="1437.1" r="4.9"/>
<circle cx="1430.4" cy="1437.6" r="4.9"/>
<circle cx="1437.0" cy="1436.8" r="4.9"/>
<circle cx="1445.5" cy="1437.9" r="4.9"/>
<circle cx="1422.4" cy="1445.3" r="4.9"/>
<circle cx="1430.4" cy="1442.8" r="4.9"/>
<circle cx="1437.3" cy="1444.8" r="4.9"/>
<circle cx="1444.7" cy="1444.5" r="4.9"/>
<circle cx="1421.5" cy="1449.9" r="4.9"/>
<circle cx="1431.0" cy="1450.7" r="4.9"/>
<circle cx="1438.5" cy="1449.7" r="4.9"/>
<circle cx="1445.9" cy="1450.6" r="4.9"/>
<circle cx="1417.1" cy="1457.3" r="4.9"/>
<circle cx="1424.4" cy="1458.2" r="4.9"/>
<circle cx="1431.4" cy="1456.6" r="4.9"/>
<circle cx="1437.1" cy="1456.0" r="4.9"/>
<circle cx="1445.6" cy="1455.8" r="4.9"/>
<circle cx="1451.3" cy="1456.0" r="4.9"/>
<circle cx="1420.3" cy="1464.1" r="4.9"/>
<circle cx="1427.7" cy="1464.1" r="4.9"/>
<circle cx="1433.5" cy="1462.0" r="4.9"/>
<circle cx="1442.5" cy="1462.8" r="4.9"/>
<circle cx="1449.6" cy="1462.9" r="4.9"/>
<circle cx="1417.0" cy="1469.1" r="4.9"/>
<circle cx="1423.4" cy="1470.7" r="4.9"/>
<circle cx="1431.7" cy="1469.3" r="4.9"/>
<circle cx="1438.4" cy="1469.4" r="4.9"/>
<circle cx="1444.4" cy="1470.7" r="4.9"/>
<circle cx="1452.8" cy="1470.9" r="4.9"/>
<circle cx="1420.3" cy="1476.4" r="4.9"/>
<circle cx="1426.7" cy="1474.9" r="4.9"/>
<circle cx="1435.5" cy="1477.0" r="4.9"/>
<circle cx="1440.9" cy="1477.2" r="4.9"/>
<circle cx="1449.3" cy="1475.6" r="4.9"/>
<circle cx="1422.1" cy="1483.7" r="4.9"/>
<circle cx="1429.6" cy="1483.7" r="4.9"/>
<circle cx="1436.6" cy="1482.2" r="4.9"/>
<circle cx="1445.4" cy="1481.8" r="4.9"/>
<circle cx="1452.2" cy="1483.5" r="4.9"/>
<circle cx="1428.4" cy="1489.7" r="4.9"/>
<circle cx="1435.8" cy="1488.1" r="4.9"/>
<circle cx="1444.1" cy="1488.1" r="4.9"/>
<circle cx="1424.3" cy="1494.8" r="4.9"/>
<circle cx="1431.7" cy="1494.4" r="4.9"/>
<circle cx="1439.4" cy="1495.1" r="4.9"/>
<circle cx="1447.0" cy="1494.2" r="4.9"/>
<circle cx="1428.1" cy="1502.6" r="4.9"/>
<circle cx="1434.9" cy="1501.1" r="4.9"/>
<circle cx="1441.2" cy="1501.2" r="4.9"/>
<circle cx="1429.0" cy="1507.0" r="4.9"/>
<circle cx="1435.6" cy="1507.8" r="4.9"/>
<circle cx="1440.6" cy="1508.7" r="4.9"/>
<circle cx="1431.7" cy="1514.0" r="4.9"/>
<circle cx="1435.1" cy="1513.6" r="4.9"/>
<circle cx="1428.9" cy="1521.9" r="4.9"/>
<circle cx="1439.7" cy="1520.1" r="4.9"/>
<circle cx="1430.6" cy="1528.0" r="4.9"/>
<circle cx="1437.5" cy="1528.6" r="4.9"/>
<circle cx="1429.1" cy="1535.0" r="4.9"/>
<circle cx="1437.1" cy="1533.1" r="4.9"/>
<circle cx="1433.2" cy="1539.8" r="4.9"/>
<circle cx="1435.2" cy="1563.8" r="4.9"/>
</g>
<line x1="1181.1" y1="1424.8" x2="1231.1" y2="1424.8" stroke="#000" stroke-width="4" />
<line x1="1206.1" y1="1420.2" x2="1206.1" y2="1429.4" stroke="#000" stroke-width="4" />
<line x1="1192.1" y1="1420.2" x2="1220.1" y2="1420.2" stroke="#000" stroke-width="4" />
<line x1="1192.1" y1="1429.4" x2="1220.1" y2="1429.4" stroke="#000" stroke-width="4" />
<line x1="1257.2" y1="1472.1" x2="1307.2" y2="1472.1" stroke="#000" stroke-width="4" />
<line x1="1282.2" y1="1468.4" x2="1282.2" y2="1475.8" stroke="#000" stroke-width="4" />
<line x1="1268.2" y1="1468.4" x2="1296.2" y2="1468.4" stroke="#000" stroke-width="4" />
<line x1="1268.2" y1="1475.8" x2="1296.2" y2="1475.8" stroke="#000" stroke-width="4" />
<line x1="1333.3" y1="1438.0" x2="1383.3" y2="1438.0" stroke="#000" stroke-width="4" />
<line x1="1358.3" y1="1433.1" x2="1358.3" y2="1442.9" stroke="#000" stroke-width="4" />
<line x1="1344.3" y1="1433.1" x2="1372.3" y2="1433.1" stroke="#000" stroke-width="4" />
<line x1="1344.3" y1="1442.9" x2="1372.3" y2="1442.9" stroke="#000" stroke-width="4" />
<line x1="1409.4" y1="1460.9" x2="1459.4" y2="1460.9" stroke="#000" stroke-width="4" />
<line x1="1434.4" y1="1456.3" x2="1434.4" y2="1465.5" stroke="#000" stroke-width="4" />
<line x1="1420.4" y1="1456.3" x2="1448.4" y2="1456.3" stroke="#000" stroke-width="4" />
<line x1="1420.4" y1="1465.5" x2="1448.4" y2="1465.5" stroke="#000" stroke-width="4" />
<line x1="1156.7" y1="1259.2" x2="1156.7" y2="1591.2" stroke="#000" stroke-width="3.6" />
<line x1="1142.2" y1="1555.4" x2="1158.5" y2="1555.4" stroke="#000" stroke-width="3.4" />
<text x="1134.4" y="1564.9" font-size="26" text-anchor="end">0.6</text>
<line x1="1142.2" y1="1489.9" x2="1158.5" y2="1489.9" stroke="#000" stroke-width="3.4" />
<text x="1134.4" y="1499.4" font-size="26" text-anchor="end">0.8</text>
<line x1="1142.2" y1="1424.4" x2="1158.5" y2="1424.4" stroke="#000" stroke-width="3.4" />
<text x="1134.4" y="1433.9" font-size="26" text-anchor="end">1.0</text>
<line x1="1142.2" y1="1358.9" x2="1158.5" y2="1358.9" stroke="#000" stroke-width="3.4" />
<text x="1134.4" y="1368.4" font-size="26" text-anchor="end">1.2</text>
<line x1="1142.2" y1="1293.4" x2="1158.5" y2="1293.4" stroke="#000" stroke-width="3.4" />
<text x="1134.4" y="1302.9" font-size="26" text-anchor="end">1.4</text>
<line x1="1149.7" y1="1522.7" x2="1158.5" y2="1522.7" stroke="#000" stroke-width="3.4" />
<line x1="1149.7" y1="1457.2" x2="1158.5" y2="1457.2" stroke="#000" stroke-width="3.4" />
<line x1="1149.7" y1="1391.7" x2="1158.5" y2="1391.7" stroke="#000" stroke-width="3.4" />
<line x1="1149.7" y1="1326.2" x2="1158.5" y2="1326.2" stroke="#000" stroke-width="3.4" />
<line x1="1148.7" y1="1589.4" x2="1481.0" y2="1589.4" stroke="#000" stroke-width="3.6" />
<line x1="1206.1" y1="1587.6" x2="1206.1" y2="1603.4" stroke="#000" stroke-width="3.4" />
<line x1="1282.2" y1="1587.6" x2="1282.2" y2="1603.4" stroke="#000" stroke-width="3.4" />
<line x1="1358.3" y1="1587.6" x2="1358.3" y2="1603.4" stroke="#000" stroke-width="3.4" />
<line x1="1434.4" y1="1587.6" x2="1434.4" y2="1603.4" stroke="#000" stroke-width="3.4" />
<text transform="translate(1045.9,1428.8) rotate(-90)" font-size="26.5" text-anchor="middle" font-weight="bold">ER calcium</text>
<text transform="translate(1074.0,1428.2) rotate(-90)" font-size="26.5" text-anchor="middle">(ER-GCaMP6-201 F488/F405)</text>
<text transform="translate(1217.9,1623.1) rotate(-45)" font-size="26" text-anchor="end">scr shRNA</text>
<text transform="translate(1296.9,1623.0) rotate(-45)" font-size="26" text-anchor="end">Wfs1 shRNA</text>
<text transform="translate(1378.0,1622.4) rotate(-45)" font-size="26" text-anchor="end">IP3R shRNAs</text>
<text transform="translate(1447.6,1623.0) rotate(-45)" font-size="26" text-anchor="end">Wfs1 shRNA</text>
<text transform="translate(1488.7,1622.1) rotate(-45)" font-size="26" text-anchor="end">+ IP3R shRNAs</text>
<text x="1196.5" y="1239.2" font-size="18.4"><tspan font-style="italic">p</tspan> &lt; 0.0001</text>
<text x="1318.5" y="1246.0" font-size="18.4"><tspan font-style="italic">p</tspan> = 0.0994</text>
<line x1="1207.0" y1="1245.5" x2="1282.7" y2="1245.5" stroke="#000" stroke-width="2.3" />
<line x1="1282.7" y1="1253.6" x2="1435.4" y2="1253.6" stroke="#000" stroke-width="2.3" />
<text x="1545.8" y="1217.0" font-size="59">i</text>
<line x1="1665.7" y1="1466.4" x2="1990.0" y2="1466.4" stroke="#5c5c5c" stroke-width="2" stroke-dasharray="2.1 3.5"/>
<g fill="#FF2600">
<circle cx="1714.2" cy="1316.9" r="4.9"/>
<circle cx="1713.3" cy="1395.2" r="4.9"/>
<circle cx="1709.7" cy="1403.2" r="4.9"/>
<circle cx="1718.5" cy="1403.0" r="4.9"/>
<circle cx="1707.4" cy="1412.5" r="4.9"/>
<circle cx="1719.4" cy="1413.1" r="4.9"/>
<circle cx="1709.5" cy="1421.3" r="4.9"/>
<circle cx="1713.7" cy="1420.4" r="4.9"/>
<circle cx="1704.2" cy="1428.3" r="4.9"/>
<circle cx="1710.7" cy="1430.2" r="4.9"/>
<circle cx="1718.5" cy="1429.7" r="4.9"/>
<circle cx="1706.3" cy="1437.9" r="4.9"/>
<circle cx="1715.2" cy="1437.8" r="4.9"/>
<circle cx="1723.8" cy="1436.6" r="4.9"/>
<circle cx="1697.6" cy="1445.5" r="4.9"/>
<circle cx="1706.6" cy="1446.8" r="4.9"/>
<circle cx="1716.7" cy="1446.0" r="4.9"/>
<circle cx="1727.6" cy="1446.9" r="4.9"/>
<circle cx="1700.0" cy="1455.6" r="4.9"/>
<circle cx="1708.2" cy="1454.1" r="4.9"/>
<circle cx="1717.5" cy="1455.1" r="4.9"/>
<circle cx="1728.8" cy="1454.3" r="4.9"/>
<circle cx="1693.1" cy="1463.5" r="4.9"/>
<circle cx="1703.9" cy="1462.4" r="4.9"/>
<circle cx="1714.4" cy="1462.7" r="4.9"/>
<circle cx="1723.9" cy="1462.3" r="4.9"/>
<circle cx="1733.2" cy="1464.2" r="4.9"/>
<circle cx="1703.4" cy="1472.1" r="4.9"/>
<circle cx="1712.3" cy="1470.4" r="4.9"/>
<circle cx="1723.1" cy="1470.8" r="4.9"/>
<circle cx="1702.9" cy="1479.7" r="4.9"/>
<circle cx="1714.5" cy="1479.5" r="4.9"/>
<circle cx="1710.6" cy="1487.6" r="4.9"/>
<circle cx="1717.9" cy="1488.6" r="4.9"/>
<circle cx="1700.8" cy="1496.2" r="4.9"/>
<circle cx="1709.2" cy="1497.4" r="4.9"/>
<circle cx="1717.8" cy="1495.6" r="4.9"/>
<circle cx="1727.5" cy="1497.6" r="4.9"/>
<circle cx="1709.2" cy="1504.1" r="4.9"/>
<circle cx="1719.6" cy="1505.6" r="4.9"/>
<circle cx="1711.0" cy="1513.1" r="4.9"/>
<circle cx="1715.0" cy="1514.5" r="4.9"/>
<circle cx="1706.6" cy="1531.3" r="4.9"/>
<circle cx="1720.4" cy="1529.2" r="4.9"/>
<circle cx="1715.2" cy="1535.6" r="4.9"/>
<circle cx="1716.2" cy="1551.8" r="4.9"/>
<circle cx="1710.9" cy="1556.3" r="4.9"/>
</g>
<g fill="#FF2600">
<circle cx="1790.7" cy="1287.3" r="4.9"/>
<circle cx="1788.0" cy="1309.7" r="4.9"/>
<circle cx="1792.7" cy="1315.3" r="4.9"/>
<circle cx="1787.5" cy="1329.5" r="4.9"/>
<circle cx="1789.4" cy="1339.0" r="4.9"/>
<circle cx="1787.0" cy="1358.9" r="4.9"/>
<circle cx="1792.5" cy="1357.9" r="4.9"/>
<circle cx="1790.3" cy="1366.1" r="4.9"/>
<circle cx="1790.4" cy="1375.0" r="4.9"/>
<circle cx="1789.6" cy="1382.5" r="4.9"/>
<circle cx="1785.9" cy="1390.6" r="4.9"/>
<circle cx="1794.1" cy="1389.6" r="4.9"/>
<circle cx="1784.3" cy="1397.8" r="4.9"/>
<circle cx="1792.4" cy="1397.4" r="4.9"/>
<circle cx="1776.6" cy="1405.0" r="4.9"/>
<circle cx="1785.6" cy="1406.4" r="4.9"/>
<circle cx="1792.7" cy="1405.3" r="4.9"/>
<circle cx="1801.6" cy="1405.8" r="4.9"/>
<circle cx="1775.1" cy="1413.4" r="4.9"/>
<circle cx="1784.1" cy="1414.8" r="4.9"/>
<circle cx="1793.8" cy="1414.0" r="4.9"/>
<circle cx="1804.4" cy="1414.6" r="4.9"/>
<circle cx="1770.2" cy="1422.3" r="4.9"/>
<circle cx="1779.2" cy="1422.1" r="4.9"/>
<circle cx="1790.3" cy="1421.6" r="4.9"/>
<circle cx="1800.7" cy="1422.5" r="4.9"/>
<circle cx="1809.4" cy="1421.1" r="4.9"/>
<circle cx="1777.7" cy="1428.8" r="4.9"/>
<circle cx="1784.6" cy="1428.9" r="4.9"/>
<circle cx="1792.8" cy="1430.0" r="4.9"/>
<circle cx="1801.4" cy="1428.5" r="4.9"/>
<circle cx="1779.1" cy="1437.3" r="4.9"/>
<circle cx="1789.6" cy="1436.5" r="4.9"/>
<circle cx="1800.0" cy="1436.1" r="4.9"/>
<circle cx="1783.3" cy="1445.9" r="4.9"/>
<circle cx="1791.4" cy="1445.8" r="4.9"/>
<circle cx="1781.7" cy="1453.2" r="4.9"/>
<circle cx="1790.3" cy="1453.0" r="4.9"/>
<circle cx="1801.4" cy="1452.2" r="4.9"/>
<circle cx="1786.1" cy="1460.3" r="4.9"/>
<circle cx="1790.7" cy="1468.9" r="4.9"/>
<circle cx="1790.2" cy="1477.2" r="4.9"/>
<circle cx="1785.1" cy="1483.8" r="4.9"/>
<circle cx="1794.0" cy="1483.5" r="4.9"/>
</g>
<g fill="#FF2600">
<circle cx="1865.1" cy="1335.4" r="4.9"/>
<circle cx="1866.4" cy="1349.5" r="4.9"/>
<circle cx="1862.9" cy="1356.5" r="4.9"/>
<circle cx="1867.8" cy="1357.3" r="4.9"/>
<circle cx="1863.2" cy="1362.9" r="4.9"/>
<circle cx="1866.3" cy="1369.3" r="4.9"/>
<circle cx="1864.0" cy="1374.6" r="4.9"/>
<circle cx="1867.8" cy="1374.9" r="4.9"/>
<circle cx="1863.2" cy="1381.9" r="4.9"/>
<circle cx="1868.1" cy="1382.7" r="4.9"/>
<circle cx="1863.1" cy="1387.0" r="4.9"/>
<circle cx="1868.3" cy="1388.6" r="4.9"/>
<circle cx="1863.8" cy="1395.2" r="4.9"/>
<circle cx="1868.8" cy="1395.8" r="4.9"/>
<circle cx="1863.8" cy="1401.0" r="4.9"/>
<circle cx="1867.3" cy="1400.5" r="4.9"/>
<circle cx="1863.2" cy="1406.4" r="4.9"/>
<circle cx="1868.8" cy="1406.6" r="4.9"/>
<circle cx="1858.7" cy="1415.1" r="4.9"/>
<circle cx="1864.8" cy="1412.7" r="4.9"/>
<circle cx="1872.8" cy="1413.1" r="4.9"/>
<circle cx="1859.4" cy="1419.0" r="4.9"/>
<circle cx="1866.5" cy="1421.2" r="4.9"/>
<circle cx="1872.9" cy="1420.1" r="4.9"/>
<circle cx="1854.2" cy="1427.1" r="4.9"/>
<circle cx="1861.9" cy="1426.5" r="4.9"/>
<circle cx="1868.8" cy="1426.5" r="4.9"/>
<circle cx="1876.7" cy="1427.6" r="4.9"/>
<circle cx="1859.2" cy="1432.3" r="4.9"/>
<circle cx="1865.1" cy="1433.0" r="4.9"/>
<circle cx="1872.9" cy="1432.7" r="4.9"/>
<circle cx="1853.6" cy="1438.5" r="4.9"/>
<circle cx="1861.0" cy="1439.4" r="4.9"/>
<circle cx="1870.1" cy="1440.6" r="4.9"/>
<circle cx="1876.7" cy="1440.8" r="4.9"/>
<circle cx="1858.7" cy="1446.3" r="4.9"/>
<circle cx="1867.0" cy="1444.8" r="4.9"/>
<circle cx="1874.7" cy="1446.2" r="4.9"/>
<circle cx="1849.5" cy="1452.6" r="4.9"/>
<circle cx="1859.0" cy="1452.3" r="4.9"/>
<circle cx="1866.2" cy="1451.8" r="4.9"/>
<circle cx="1873.4" cy="1453.4" r="4.9"/>
<circle cx="1881.2" cy="1451.6" r="4.9"/>
<circle cx="1850.2" cy="1458.6" r="4.9"/>
<circle cx="1856.8" cy="1459.2" r="4.9"/>
<circle cx="1865.5" cy="1459.0" r="4.9"/>
<circle cx="1873.5" cy="1458.9" r="4.9"/>
<circle cx="1881.9" cy="1458.5" r="4.9"/>
<circle cx="1847.3" cy="1464.4" r="4.9"/>
<circle cx="1856.1" cy="1465.3" r="4.9"/>
<circle cx="1861.4" cy="1466.1" r="4.9"/>
<circle cx="1869.1" cy="1464.1" r="4.9"/>
<circle cx="1877.1" cy="1464.6" r="4.9"/>
<circle cx="1884.3" cy="1465.3" r="4.9"/>
<circle cx="1856.4" cy="1471.8" r="4.9"/>
<circle cx="1862.7" cy="1471.6" r="4.9"/>
<circle cx="1870.9" cy="1470.5" r="4.9"/>
<circle cx="1877.4" cy="1470.5" r="4.9"/>
<circle cx="1857.4" cy="1479.0" r="4.9"/>
<circle cx="1866.9" cy="1478.6" r="4.9"/>
<circle cx="1876.5" cy="1477.0" r="4.9"/>
<circle cx="1862.7" cy="1485.0" r="4.9"/>
<circle cx="1868.8" cy="1485.3" r="4.9"/>
<circle cx="1858.2" cy="1490.0" r="4.9"/>
<circle cx="1867.2" cy="1491.0" r="4.9"/>
<circle cx="1874.1" cy="1489.9" r="4.9"/>
<circle cx="1863.1" cy="1496.1" r="4.9"/>
<circle cx="1868.9" cy="1496.9" r="4.9"/>
<circle cx="1860.1" cy="1503.9" r="4.9"/>
<circle cx="1870.6" cy="1503.2" r="4.9"/>
<circle cx="1861.8" cy="1509.9" r="4.9"/>
<circle cx="1871.5" cy="1510.4" r="4.9"/>
<circle cx="1865.2" cy="1516.7" r="4.9"/>
<circle cx="1867.5" cy="1517.5" r="4.9"/>
<circle cx="1863.9" cy="1523.3" r="4.9"/>
<circle cx="1865.6" cy="1548.9" r="4.9"/>
<circle cx="1866.1" cy="1564.6" r="4.9"/>
</g>
<g fill="#FF2600">
<circle cx="1939.5" cy="1328.3" r="4.9"/>
<circle cx="1944.6" cy="1329.8" r="4.9"/>
<circle cx="1942.4" cy="1346.4" r="4.9"/>
<circle cx="1939.6" cy="1354.2" r="4.9"/>
<circle cx="1944.4" cy="1356.0" r="4.9"/>
<circle cx="1938.9" cy="1374.7" r="4.9"/>
<circle cx="1944.5" cy="1372.9" r="4.9"/>
<circle cx="1939.1" cy="1387.2" r="4.9"/>
<circle cx="1944.8" cy="1387.5" r="4.9"/>
<circle cx="1935.7" cy="1393.9" r="4.9"/>
<circle cx="1947.1" cy="1395.9" r="4.9"/>
<circle cx="1943.1" cy="1403.2" r="4.9"/>
<circle cx="1946.3" cy="1403.5" r="4.9"/>
<circle cx="1938.3" cy="1410.0" r="4.9"/>
<circle cx="1948.4" cy="1411.0" r="4.9"/>
<circle cx="1932.6" cy="1419.6" r="4.9"/>
<circle cx="1943.3" cy="1417.5" r="4.9"/>
<circle cx="1951.7" cy="1417.9" r="4.9"/>
<circle cx="1933.8" cy="1427.6" r="4.9"/>
<circle cx="1942.8" cy="1425.4" r="4.9"/>
<circle cx="1949.5" cy="1427.5" r="4.9"/>
<circle cx="1930.4" cy="1434.2" r="4.9"/>
<circle cx="1938.2" cy="1433.6" r="4.9"/>
<circle cx="1947.2" cy="1434.2" r="4.9"/>
<circle cx="1954.9" cy="1434.8" r="4.9"/>
<circle cx="1926.5" cy="1441.9" r="4.9"/>
<circle cx="1936.2" cy="1443.4" r="4.9"/>
<circle cx="1947.0" cy="1441.2" r="4.9"/>
<circle cx="1927.1" cy="1449.9" r="4.9"/>
<circle cx="1935.9" cy="1450.4" r="4.9"/>
<circle cx="1944.1" cy="1449.8" r="4.9"/>
<circle cx="1951.6" cy="1450.4" r="4.9"/>
<circle cx="1961.1" cy="1449.0" r="4.9"/>
<circle cx="1932.0" cy="1459.4" r="4.9"/>
<circle cx="1940.7" cy="1457.2" r="4.9"/>
<circle cx="1952.1" cy="1457.5" r="4.9"/>
<circle cx="1930.3" cy="1466.0" r="4.9"/>
<circle cx="1940.5" cy="1466.1" r="4.9"/>
<circle cx="1951.8" cy="1467.1" r="4.9"/>
<circle cx="1937.3" cy="1472.6" r="4.9"/>
<circle cx="1947.4" cy="1474.5" r="4.9"/>
<circle cx="1940.5" cy="1482.4" r="4.9"/>
<circle cx="1944.5" cy="1482.0" r="4.9"/>
<circle cx="1939.8" cy="1497.6" r="4.9"/>
<circle cx="1944.7" cy="1499.2" r="4.9"/>
<circle cx="1942.6" cy="1514.0" r="4.9"/>
</g>
<line x1="1688.6" y1="1467.0" x2="1738.6" y2="1467.0" stroke="#000" stroke-width="4" />
<line x1="1713.6" y1="1462.0" x2="1713.6" y2="1472.0" stroke="#000" stroke-width="4" />
<line x1="1699.6" y1="1462.0" x2="1727.6" y2="1462.0" stroke="#000" stroke-width="4" />
<line x1="1699.6" y1="1472.0" x2="1727.6" y2="1472.0" stroke="#000" stroke-width="4" />
<line x1="1764.2" y1="1414.1" x2="1814.2" y2="1414.1" stroke="#000" stroke-width="4" />
<line x1="1789.2" y1="1408.3" x2="1789.2" y2="1419.9" stroke="#000" stroke-width="4" />
<line x1="1775.2" y1="1408.3" x2="1803.2" y2="1408.3" stroke="#000" stroke-width="4" />
<line x1="1775.2" y1="1419.9" x2="1803.2" y2="1419.9" stroke="#000" stroke-width="4" />
<line x1="1840.8" y1="1450.5" x2="1890.8" y2="1450.5" stroke="#000" stroke-width="4" />
<line x1="1865.8" y1="1446.8" x2="1865.8" y2="1454.2" stroke="#000" stroke-width="4" />
<line x1="1851.8" y1="1446.8" x2="1879.8" y2="1446.8" stroke="#000" stroke-width="4" />
<line x1="1851.8" y1="1454.2" x2="1879.8" y2="1454.2" stroke="#000" stroke-width="4" />
<line x1="1917.1" y1="1429.1" x2="1967.1" y2="1429.1" stroke="#000" stroke-width="4" />
<line x1="1942.1" y1="1423.9" x2="1942.1" y2="1434.3" stroke="#000" stroke-width="4" />
<line x1="1928.1" y1="1423.9" x2="1956.1" y2="1423.9" stroke="#000" stroke-width="4" />
<line x1="1928.1" y1="1434.3" x2="1956.1" y2="1434.3" stroke="#000" stroke-width="4" />
<line x1="1663.7" y1="1259.8" x2="1663.7" y2="1591.2" stroke="#000" stroke-width="3.6" />
<line x1="1649.2" y1="1547.9" x2="1665.5" y2="1547.9" stroke="#000" stroke-width="3.4" />
<text x="1643.0" y="1556.9" font-size="26" text-anchor="end">0.8</text>
<line x1="1649.2" y1="1466.0" x2="1665.5" y2="1466.0" stroke="#000" stroke-width="3.4" />
<text x="1643.0" y="1475.0" font-size="26" text-anchor="end">1.0</text>
<line x1="1649.2" y1="1384.1" x2="1665.5" y2="1384.1" stroke="#000" stroke-width="3.4" />
<text x="1643.0" y="1393.1" font-size="26" text-anchor="end">1.2</text>
<line x1="1649.2" y1="1302.2" x2="1665.5" y2="1302.2" stroke="#000" stroke-width="3.4" />
<text x="1643.0" y="1311.2" font-size="26" text-anchor="end">1.4</text>
<line x1="1656.7" y1="1507.0" x2="1665.5" y2="1507.0" stroke="#000" stroke-width="3.4" />
<line x1="1656.7" y1="1425.0" x2="1665.5" y2="1425.0" stroke="#000" stroke-width="3.4" />
<line x1="1656.7" y1="1343.2" x2="1665.5" y2="1343.2" stroke="#000" stroke-width="3.4" />
<line x1="1655.6" y1="1589.4" x2="1990.0" y2="1589.4" stroke="#000" stroke-width="3.6" />
<line x1="1713.6" y1="1587.6" x2="1713.6" y2="1603.4" stroke="#000" stroke-width="3.4" />
<line x1="1789.2" y1="1587.6" x2="1789.2" y2="1603.4" stroke="#000" stroke-width="3.4" />
<line x1="1865.8" y1="1587.6" x2="1865.8" y2="1603.4" stroke="#000" stroke-width="3.4" />
<line x1="1942.1" y1="1587.6" x2="1942.1" y2="1603.4" stroke="#000" stroke-width="3.4" />
<text transform="translate(1556.6,1429.5) rotate(-90)" font-size="26.5" text-anchor="middle" font-weight="bold">Axoplasmic calcium</text>
<text transform="translate(1585.0,1428.0) rotate(-90)" font-size="26.5" text-anchor="middle">(jGCaMP7b F488/F405)</text>
<text transform="translate(1726.1,1622.7) rotate(-45)" font-size="26" text-anchor="end">scr shRNA</text>
<text transform="translate(1804.7,1622.9) rotate(-45)" font-size="26" text-anchor="end">Wfs1 shRNA</text>
<text transform="translate(1886.3,1622.6) rotate(-45)" font-size="26" text-anchor="end">IP3R shRNAs</text>
<text transform="translate(1955.1,1623.2) rotate(-45)" font-size="26" text-anchor="end">Wfs1 shRNA</text>
<text transform="translate(1995.7,1622.1) rotate(-45)" font-size="26" text-anchor="end">+ IP3R shRNAs</text>
<text x="1699.5" y="1239.2" font-size="18.4"><tspan font-style="italic">p</tspan> &lt; 0.0001</text>
<text x="1820.4" y="1246.0" font-size="18.4"><tspan font-style="italic">p</tspan> = 0.1687</text>
<line x1="1709.0" y1="1245.5" x2="1784.6" y2="1245.5" stroke="#000" stroke-width="2.3" />
<line x1="1784.6" y1="1253.6" x2="1937.8" y2="1253.6" stroke="#000" stroke-width="2.3" />
</svg></body></html>
